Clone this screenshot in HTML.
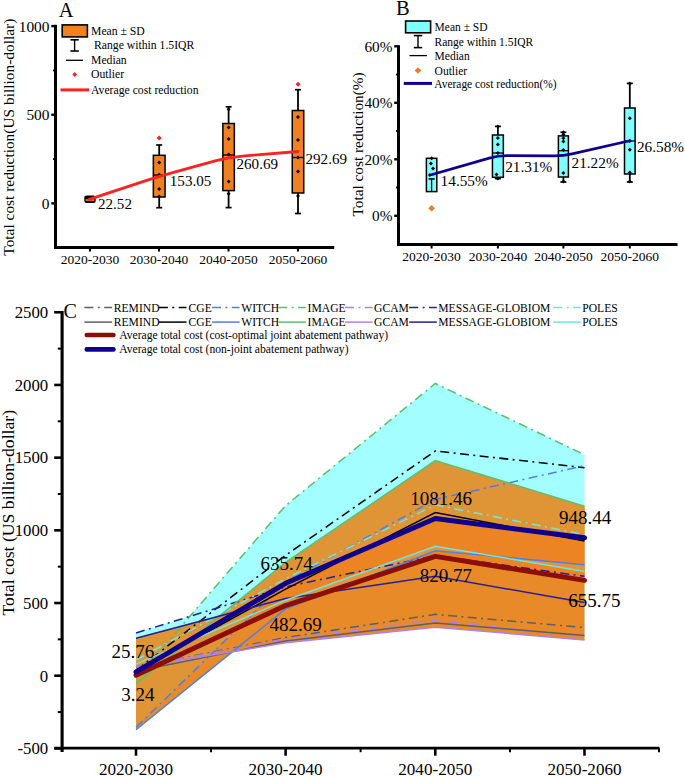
<!DOCTYPE html>
<html><head><meta charset="utf-8"><style>
html,body{margin:0;padding:0;background:#fff;}
svg{display:block;font-family:"Liberation Serif", serif;}
</style></head><body>
<svg width="685" height="776" viewBox="0 0 685 776">
<rect width="685" height="776" fill="#fff"/>
<line x1="55.50" y1="24.80" x2="55.50" y2="248.50" stroke="#000" stroke-width="3" />
<line x1="54.00" y1="247.50" x2="334.20" y2="247.50" stroke="#000" stroke-width="3.0" />
<line x1="51.30" y1="26.10" x2="55.50" y2="26.10" stroke="#000" stroke-width="2.4" />
<text x="49.50" y="31.50" font-size="15.4" text-anchor="end" fill="#000" >1000</text>
<line x1="51.30" y1="114.75" x2="55.50" y2="114.75" stroke="#000" stroke-width="2.4" />
<text x="49.50" y="120.15" font-size="15.4" text-anchor="end" fill="#000" >500</text>
<line x1="51.30" y1="203.40" x2="55.50" y2="203.40" stroke="#000" stroke-width="2.4" />
<text x="49.50" y="208.80" font-size="15.4" text-anchor="end" fill="#000" >0</text>
<line x1="53.00" y1="70.42" x2="55.50" y2="70.42" stroke="#000" stroke-width="1.8" />
<line x1="53.00" y1="159.07" x2="55.50" y2="159.07" stroke="#000" stroke-width="1.8" />
<line x1="90.00" y1="247.50" x2="90.00" y2="251.50" stroke="#000" stroke-width="2" />
<line x1="159.00" y1="247.50" x2="159.00" y2="251.50" stroke="#000" stroke-width="2" />
<line x1="228.50" y1="247.50" x2="228.50" y2="251.50" stroke="#000" stroke-width="2" />
<line x1="298.00" y1="247.50" x2="298.00" y2="251.50" stroke="#000" stroke-width="2" />
<text x="90.00" y="264.10" font-size="13.5" text-anchor="middle" fill="#000" >2020-2030</text>
<text x="159.00" y="264.10" font-size="13.5" text-anchor="middle" fill="#000" >2030-2040</text>
<text x="228.50" y="264.10" font-size="13.5" text-anchor="middle" fill="#000" >2040-2050</text>
<text x="298.00" y="264.10" font-size="13.5" text-anchor="middle" fill="#000" >2050-2060</text>
<text x="13.90" y="137.20" font-size="15.4" text-anchor="middle" fill="#000" transform="rotate(-90 13.9 137.2)">Total cost reduction(US billion-dollar)</text>
<text x="58.80" y="17.40" font-size="20.5" text-anchor="start" fill="#000" >A</text>
<rect x="62.20" y="24.90" width="25.20" height="12.00" fill="#F18021" stroke="#000" stroke-width="1.6"/>
<line x1="74.60" y1="39.80" x2="74.60" y2="51.00" stroke="#000" stroke-width="1.4" />
<line x1="70.40" y1="39.80" x2="78.80" y2="39.80" stroke="#000" stroke-width="1.6" />
<line x1="70.40" y1="51.00" x2="78.80" y2="51.00" stroke="#000" stroke-width="1.6" />
<line x1="66.00" y1="60.30" x2="83.00" y2="60.30" stroke="#000" stroke-width="1.3" />
<polygon points="74.70,72.10 77.10,74.50 74.70,76.90 72.30,74.50" fill="#FF2020"/>
<line x1="60.50" y1="89.90" x2="89.00" y2="89.90" stroke="#FF2020" stroke-width="3" />
<text x="91.00" y="34.70" font-size="11.7" text-anchor="start" fill="#000" >Mean ± SD</text>
<text x="94.00" y="49.10" font-size="11.7" text-anchor="start" fill="#000" >Range within 1.5IQR</text>
<text x="91.00" y="63.60" font-size="11.7" text-anchor="start" fill="#000" >Median</text>
<text x="91.00" y="78.00" font-size="11.7" text-anchor="start" fill="#000" >Outlier</text>
<text x="91.00" y="93.60" font-size="11.7" text-anchor="start" fill="#000" >Average cost reduction</text>
<rect x="84.3" y="195.4" width="11.4" height="7.6" rx="2.2" fill="#000"/>
<rect x="85.6" y="199.2" width="8.8" height="1.7" fill="#F18021"/>
<line x1="159.20" y1="145.00" x2="159.20" y2="155.30" stroke="#000" stroke-width="1.8" />
<line x1="156.20" y1="145.00" x2="162.20" y2="145.00" stroke="#000" stroke-width="1.7" />
<line x1="159.20" y1="197.00" x2="159.20" y2="207.70" stroke="#000" stroke-width="1.8" />
<line x1="156.20" y1="207.70" x2="162.20" y2="207.70" stroke="#000" stroke-width="1.7" />
<rect x="153.35" y="155.30" width="11.70" height="41.70" fill="#F18021" stroke="#000" stroke-width="1.5"/>
<line x1="153.35" y1="175.00" x2="165.05" y2="175.00" stroke="#000" stroke-width="1.3" />
<polygon points="159.20,160.60 161.20,162.60 159.20,164.60 157.20,162.60" fill="#000"/>
<polygon points="159.20,172.70 161.20,174.70 159.20,176.70 157.20,174.70" fill="#000"/>
<polygon points="159.20,187.00 161.20,189.00 159.20,191.00 157.20,189.00" fill="#000"/>
<polygon points="159.20,194.60 161.20,196.60 159.20,198.60 157.20,196.60" fill="#000"/>
<polygon points="159.20,135.40 161.70,137.90 159.20,140.40 156.70,137.90" fill="#FF2020"/>
<line x1="228.60" y1="106.80" x2="228.60" y2="123.50" stroke="#000" stroke-width="1.8" />
<line x1="225.60" y1="106.80" x2="231.60" y2="106.80" stroke="#000" stroke-width="1.7" />
<line x1="228.60" y1="190.60" x2="228.60" y2="207.60" stroke="#000" stroke-width="1.8" />
<line x1="225.60" y1="207.60" x2="231.60" y2="207.60" stroke="#000" stroke-width="1.7" />
<rect x="222.85" y="123.50" width="11.50" height="67.10" fill="#F18021" stroke="#000" stroke-width="1.5"/>
<line x1="222.85" y1="155.00" x2="234.35" y2="155.00" stroke="#000" stroke-width="1.3" />
<polygon points="228.60,107.30 230.60,109.30 228.60,111.30 226.60,109.30" fill="#000"/>
<polygon points="228.60,125.60 230.60,127.60 228.60,129.60 226.60,127.60" fill="#000"/>
<polygon points="228.60,137.10 230.60,139.10 228.60,141.10 226.60,139.10" fill="#000"/>
<polygon points="228.60,152.50 230.60,154.50 228.60,156.50 226.60,154.50" fill="#000"/>
<polygon points="228.60,179.50 230.60,181.50 228.60,183.50 226.60,181.50" fill="#000"/>
<polygon points="228.60,191.70 230.60,193.70 228.60,195.70 226.60,193.70" fill="#000"/>
<line x1="298.00" y1="89.70" x2="298.00" y2="110.50" stroke="#000" stroke-width="1.8" />
<line x1="295.00" y1="89.70" x2="301.00" y2="89.70" stroke="#000" stroke-width="1.7" />
<line x1="298.00" y1="193.00" x2="298.00" y2="213.50" stroke="#000" stroke-width="1.8" />
<line x1="295.00" y1="213.50" x2="301.00" y2="213.50" stroke="#000" stroke-width="1.7" />
<rect x="292.25" y="110.50" width="11.50" height="82.50" fill="#F18021" stroke="#000" stroke-width="1.5"/>
<line x1="292.25" y1="157.50" x2="303.75" y2="157.50" stroke="#000" stroke-width="1.3" />
<polygon points="298.00,115.10 300.00,117.10 298.00,119.10 296.00,117.10" fill="#000"/>
<polygon points="298.00,137.90 300.00,139.90 298.00,141.90 296.00,139.90" fill="#000"/>
<polygon points="298.00,155.50 300.00,157.50 298.00,159.50 296.00,157.50" fill="#000"/>
<polygon points="298.00,169.40 300.00,171.40 298.00,173.40 296.00,171.40" fill="#000"/>
<polygon points="298.00,194.10 300.00,196.10 298.00,198.10 296.00,196.10" fill="#000"/>
<polygon points="298.00,81.80 300.50,84.30 298.00,86.80 295.50,84.30" fill="#FF2020"/>
<path d="M89.20,199.41 L145.91,180.66 Q159.20,176.26 172.70,172.55 L215.10,160.89 Q228.60,157.18 242.55,156.04 L298.00,151.51" fill="none" stroke="#FF2020" stroke-width="2.8" stroke-linecap="round" stroke-linejoin="round"/>
<text x="98.00" y="209.20" font-size="15.1" text-anchor="start" fill="#000" >22.52</text>
<text x="169.80" y="185.60" font-size="15.1" text-anchor="start" fill="#000" >153.05</text>
<text x="236.50" y="169.20" font-size="15.1" text-anchor="start" fill="#000" >260.69</text>
<text x="305.50" y="163.60" font-size="15.1" text-anchor="start" fill="#000" >292.69</text>
<line x1="398.50" y1="45.20" x2="398.50" y2="245.90" stroke="#000" stroke-width="3" />
<line x1="397.00" y1="244.50" x2="677.50" y2="244.50" stroke="#000" stroke-width="2.8" />
<line x1="394.20" y1="46.30" x2="398.50" y2="46.30" stroke="#000" stroke-width="2.4" />
<text x="392.50" y="51.60" font-size="15.3" text-anchor="end" fill="#000" >60%</text>
<line x1="394.20" y1="102.80" x2="398.50" y2="102.80" stroke="#000" stroke-width="2.4" />
<text x="392.50" y="108.10" font-size="15.3" text-anchor="end" fill="#000" >40%</text>
<line x1="394.20" y1="159.30" x2="398.50" y2="159.30" stroke="#000" stroke-width="2.4" />
<text x="392.50" y="164.60" font-size="15.3" text-anchor="end" fill="#000" >20%</text>
<line x1="394.20" y1="215.80" x2="398.50" y2="215.80" stroke="#000" stroke-width="2.4" />
<text x="392.50" y="221.10" font-size="15.3" text-anchor="end" fill="#000" >0%</text>
<line x1="396.00" y1="74.55" x2="398.50" y2="74.55" stroke="#000" stroke-width="1.8" />
<line x1="396.00" y1="131.05" x2="398.50" y2="131.05" stroke="#000" stroke-width="1.8" />
<line x1="396.00" y1="187.55" x2="398.50" y2="187.55" stroke="#000" stroke-width="1.8" />
<line x1="431.60" y1="244.50" x2="431.60" y2="248.50" stroke="#000" stroke-width="2" />
<line x1="497.90" y1="244.50" x2="497.90" y2="248.50" stroke="#000" stroke-width="2" />
<line x1="563.40" y1="244.50" x2="563.40" y2="248.50" stroke="#000" stroke-width="2" />
<line x1="629.80" y1="244.50" x2="629.80" y2="248.50" stroke="#000" stroke-width="2" />
<text x="431.60" y="261.20" font-size="13.5" text-anchor="middle" fill="#000" >2020-2030</text>
<text x="497.90" y="261.20" font-size="13.5" text-anchor="middle" fill="#000" >2030-2040</text>
<text x="563.40" y="261.20" font-size="13.5" text-anchor="middle" fill="#000" >2040-2050</text>
<text x="629.80" y="261.20" font-size="13.5" text-anchor="middle" fill="#000" >2050-2060</text>
<text x="363.20" y="144.40" font-size="15.3" text-anchor="middle" fill="#000" transform="rotate(-90 363.2 144.4)">Total cost reduction(%)</text>
<text x="396.00" y="14.60" font-size="20.5" text-anchor="start" fill="#000" >B</text>
<rect x="405.60" y="21.00" width="25.00" height="11.80" fill="#80FFFF" stroke="#000" stroke-width="1.6"/>
<line x1="418.00" y1="35.60" x2="418.00" y2="47.60" stroke="#000" stroke-width="1.4" />
<line x1="413.80" y1="35.60" x2="422.20" y2="35.60" stroke="#000" stroke-width="1.6" />
<line x1="413.80" y1="47.60" x2="422.20" y2="47.60" stroke="#000" stroke-width="1.6" />
<line x1="409.50" y1="55.60" x2="426.90" y2="55.60" stroke="#000" stroke-width="1.3" />
<polygon points="418.00,67.20 421.30,70.50 418.00,73.80 414.70,70.50" fill="#F07C20"/>
<line x1="403.80" y1="83.40" x2="432.00" y2="83.40" stroke="#100090" stroke-width="3" />
<text x="434.60" y="30.90" font-size="11.5" text-anchor="start" fill="#000" >Mean ± SD</text>
<text x="434.60" y="46.10" font-size="11.5" text-anchor="start" fill="#000" >Range within 1.5IQR</text>
<text x="434.60" y="60.30" font-size="11.5" text-anchor="start" fill="#000" >Median</text>
<text x="434.60" y="74.80" font-size="11.5" text-anchor="start" fill="#000" >Outlier</text>
<text x="434.30" y="87.80" font-size="11.45" text-anchor="start" fill="#000" >Average cost reduction(%)</text>
<rect x="426.40" y="158.30" width="10.40" height="33.30" fill="#80FFFF" stroke="#000" stroke-width="1.5"/>
<line x1="431.60" y1="178.90" x2="431.60" y2="191.60" stroke="#000" stroke-width="1.3" />
<line x1="428.60" y1="178.90" x2="434.70" y2="178.90" stroke="#000" stroke-width="1.6" />
<polygon points="431.60,156.30 433.60,158.30 431.60,160.30 429.60,158.30" fill="#000"/>
<polygon points="430.90,161.60 432.90,163.60 430.90,165.60 428.90,163.60" fill="#000"/>
<polygon points="433.00,166.40 435.00,168.40 433.00,170.40 431.00,168.40" fill="#000"/>
<polygon points="429.90,173.00 431.90,175.00 429.90,177.00 427.90,175.00" fill="#000"/>
<polygon points="431.60,204.90 434.90,208.20 431.60,211.50 428.30,208.20" fill="#F07C20"/>
<line x1="497.90" y1="126.40" x2="497.90" y2="135.00" stroke="#000" stroke-width="1.8" />
<line x1="494.90" y1="126.40" x2="500.90" y2="126.40" stroke="#000" stroke-width="1.7" />
<line x1="497.90" y1="177.30" x2="497.90" y2="178.60" stroke="#000" stroke-width="1.8" />
<line x1="494.90" y1="178.60" x2="500.90" y2="178.60" stroke="#000" stroke-width="1.7" />
<rect x="492.45" y="135.00" width="10.90" height="42.30" fill="#80FFFF" stroke="#000" stroke-width="1.5"/>
<line x1="492.45" y1="153.00" x2="503.35" y2="153.00" stroke="#000" stroke-width="1.3" />
<polygon points="497.90,124.40 499.90,126.40 497.90,128.40 495.90,126.40" fill="#000"/>
<polygon points="497.90,135.90 499.90,137.90 497.90,139.90 495.90,137.90" fill="#000"/>
<polygon points="497.90,142.40 499.90,144.40 497.90,146.40 495.90,144.40" fill="#000"/>
<polygon points="497.90,151.00 499.90,153.00 497.90,155.00 495.90,153.00" fill="#000"/>
<polygon points="496.50,172.40 498.50,174.40 496.50,176.40 494.50,174.40" fill="#000"/>
<polygon points="497.90,176.60 499.90,178.60 497.90,180.60 495.90,178.60" fill="#000"/>
<line x1="563.40" y1="132.30" x2="563.40" y2="135.90" stroke="#000" stroke-width="1.8" />
<line x1="560.40" y1="132.30" x2="566.40" y2="132.30" stroke="#000" stroke-width="1.7" />
<line x1="563.40" y1="177.00" x2="563.40" y2="182.00" stroke="#000" stroke-width="1.8" />
<line x1="560.40" y1="182.00" x2="566.40" y2="182.00" stroke="#000" stroke-width="1.7" />
<rect x="558.40" y="135.90" width="10.00" height="41.10" fill="#80FFFF" stroke="#000" stroke-width="1.5"/>
<line x1="558.40" y1="150.70" x2="568.40" y2="150.70" stroke="#000" stroke-width="1.3" />
<polygon points="563.40,130.30 565.40,132.30 563.40,134.30 561.40,132.30" fill="#000"/>
<polygon points="563.40,132.50 565.40,134.50 563.40,136.50 561.40,134.50" fill="#000"/>
<polygon points="563.40,136.30 565.40,138.30 563.40,140.30 561.40,138.30" fill="#000"/>
<polygon points="563.40,139.50 565.40,141.50 563.40,143.50 561.40,141.50" fill="#000"/>
<polygon points="563.40,148.00 565.40,150.00 563.40,152.00 561.40,150.00" fill="#000"/>
<polygon points="563.40,171.00 565.40,173.00 563.40,175.00 561.40,173.00" fill="#000"/>
<polygon points="563.40,179.60 565.40,181.60 563.40,183.60 561.40,181.60" fill="#000"/>
<line x1="629.80" y1="83.40" x2="629.80" y2="108.00" stroke="#000" stroke-width="1.8" />
<line x1="626.80" y1="83.40" x2="632.80" y2="83.40" stroke="#000" stroke-width="1.7" />
<line x1="629.80" y1="174.00" x2="629.80" y2="182.00" stroke="#000" stroke-width="1.8" />
<line x1="626.80" y1="182.00" x2="632.80" y2="182.00" stroke="#000" stroke-width="1.7" />
<rect x="624.50" y="108.00" width="10.60" height="66.00" fill="#80FFFF" stroke="#000" stroke-width="1.5"/>
<line x1="624.50" y1="141.00" x2="635.10" y2="141.00" stroke="#000" stroke-width="1.3" />
<polygon points="629.80,81.40 631.80,83.40 629.80,85.40 627.80,83.40" fill="#000"/>
<polygon points="629.80,116.30 631.80,118.30 629.80,120.30 627.80,118.30" fill="#000"/>
<polygon points="629.80,139.00 631.80,141.00 629.80,143.00 627.80,141.00" fill="#000"/>
<polygon points="629.80,147.80 631.80,149.80 629.80,151.80 627.80,149.80" fill="#000"/>
<polygon points="629.80,170.50 631.80,172.50 629.80,174.50 627.80,172.50" fill="#000"/>
<polygon points="629.80,179.40 631.80,181.40 629.80,183.40 627.80,181.40" fill="#000"/>
<path d="M431.40,174.70 L489.25,158.08 Q497.90,155.60 506.90,155.63 L554.40,155.82 Q563.40,155.85 572.17,153.85 L629.80,140.71" fill="none" stroke="#100090" stroke-width="2.7" stroke-linecap="round" stroke-linejoin="round"/>
<text x="440.60" y="186.30" font-size="15.3" text-anchor="start" fill="#000" >14.55%</text>
<text x="505.20" y="171.80" font-size="15.3" text-anchor="start" fill="#000" >21.31%</text>
<text x="571.50" y="168.00" font-size="15.3" text-anchor="start" fill="#000" >21.22%</text>
<text x="636.90" y="152.40" font-size="15.3" text-anchor="start" fill="#000" >26.58%</text>
<polygon points="136.00,632.96 136.75,632.73 137.50,632.50 138.24,632.27 138.99,632.04 139.74,631.81 140.49,631.58 141.24,631.35 141.98,631.12 142.73,630.89 143.48,630.66 144.23,630.43 144.98,630.20 145.72,629.97 146.47,629.74 147.22,629.51 147.97,629.27 148.72,629.04 149.46,628.81 150.21,628.58 150.96,628.35 151.71,628.12 152.46,627.89 153.20,627.66 153.95,627.43 154.70,627.20 155.45,626.97 156.20,626.74 156.94,626.51 157.69,626.28 158.44,626.05 159.19,625.82 159.94,625.59 160.68,625.36 161.43,625.13 162.18,624.90 162.93,624.67 163.68,624.44 164.42,624.21 165.17,623.98 165.92,623.74 166.67,623.51 167.42,623.28 168.16,623.05 168.91,622.82 169.66,622.59 170.41,622.36 171.16,622.13 171.90,621.90 172.65,621.67 173.40,621.44 174.15,621.21 174.90,620.98 175.64,620.75 176.39,620.52 177.14,620.29 177.89,620.06 178.64,619.83 179.38,619.60 180.13,619.37 180.88,619.14 181.63,618.91 182.38,618.68 183.12,618.45 183.87,618.21 184.62,617.98 185.37,617.75 186.12,617.52 186.86,617.29 187.61,617.06 188.36,616.83 189.11,616.60 189.86,616.33 190.60,615.47 191.35,614.60 192.10,613.74 192.85,612.87 193.60,612.01 194.34,611.14 195.09,610.28 195.84,609.41 196.59,608.55 197.34,607.68 198.08,606.82 198.83,605.95 199.58,605.09 200.33,604.22 201.08,603.36 201.82,602.49 202.57,601.63 203.32,600.76 204.07,599.90 204.82,599.03 205.56,598.17 206.31,597.30 207.06,596.44 207.81,595.57 208.56,594.71 209.30,593.84 210.05,592.98 210.80,592.11 211.55,591.25 212.30,590.38 213.04,589.52 213.79,588.65 214.54,587.79 215.29,586.92 216.04,586.06 216.78,585.19 217.53,584.33 218.28,583.46 219.03,582.60 219.78,581.73 220.52,580.87 221.27,580.00 222.02,579.14 222.77,578.27 223.52,577.41 224.26,576.54 225.01,575.68 225.76,574.81 226.51,573.95 227.26,573.08 228.00,572.22 228.75,571.35 229.50,570.49 230.25,569.62 231.00,568.76 231.74,567.89 232.49,567.03 233.24,566.16 233.99,565.30 234.74,564.43 235.48,563.57 236.23,562.70 236.98,561.84 237.73,560.97 238.48,560.11 239.22,559.24 239.97,558.38 240.72,557.51 241.47,556.65 242.22,555.78 242.96,554.92 243.71,554.05 244.46,553.19 245.21,552.32 245.96,551.46 246.70,550.59 247.45,549.73 248.20,548.86 248.95,548.00 249.70,547.13 250.44,546.27 251.19,545.40 251.94,544.54 252.69,543.67 253.44,542.81 254.18,541.95 254.93,541.08 255.68,540.22 256.43,539.35 257.18,538.49 257.92,537.62 258.67,536.76 259.42,535.89 260.17,535.03 260.92,534.16 261.66,533.30 262.41,532.43 263.16,531.57 263.91,530.70 264.66,529.84 265.40,528.97 266.15,528.11 266.90,527.24 267.65,526.38 268.40,525.51 269.14,524.65 269.89,523.78 270.64,522.92 271.39,522.05 272.14,521.19 272.88,520.32 273.63,519.46 274.38,518.59 275.13,517.73 275.88,516.86 276.62,516.00 277.37,515.13 278.12,514.27 278.87,513.40 279.62,512.54 280.36,511.67 281.11,510.81 281.86,509.94 282.61,509.08 283.36,508.21 284.10,507.35 284.85,506.48 285.60,505.62 285.60,505.62 286.35,505.01 287.10,504.40 287.85,503.79 288.59,503.17 289.34,502.56 290.09,501.95 290.84,501.34 291.59,500.73 292.34,500.12 293.09,499.51 293.83,498.90 294.58,498.29 295.33,497.68 296.08,497.07 296.83,496.46 297.58,495.85 298.32,495.24 299.07,494.63 299.82,494.02 300.57,493.41 301.32,492.80 302.07,492.18 302.82,491.57 303.56,490.96 304.31,490.35 305.06,489.74 305.81,489.13 306.56,488.52 307.31,487.91 308.06,487.30 308.80,486.69 309.55,486.08 310.30,485.47 311.05,484.86 311.80,484.25 312.55,483.64 313.29,483.03 314.04,482.42 314.79,481.81 315.54,481.19 316.29,480.58 317.04,479.97 317.79,479.36 318.53,478.75 319.28,478.14 320.03,477.53 320.78,476.92 321.53,476.31 322.28,475.70 323.03,475.09 323.77,474.48 324.52,473.87 325.27,473.26 326.02,472.65 326.77,472.04 327.52,471.43 328.26,470.82 329.01,470.20 329.76,469.59 330.51,468.98 331.26,468.37 332.01,467.76 332.76,467.15 333.50,466.54 334.25,465.93 335.00,465.32 335.75,464.71 336.50,464.10 337.25,463.49 338.00,462.88 338.74,462.27 339.49,461.66 340.24,461.05 340.99,460.44 341.74,459.83 342.49,459.21 343.23,458.60 343.98,457.99 344.73,457.38 345.48,456.77 346.23,456.16 346.98,455.55 347.73,454.94 348.47,454.33 349.22,453.72 349.97,453.11 350.72,452.50 351.47,451.89 352.22,451.28 352.97,450.67 353.71,450.06 354.46,449.45 355.21,448.84 355.96,448.23 356.71,447.61 357.46,447.00 358.20,446.39 358.95,445.78 359.70,445.17 360.45,444.56 361.20,443.95 361.95,443.34 362.70,442.73 363.44,442.12 364.19,441.51 364.94,440.90 365.69,440.29 366.44,439.68 367.19,439.07 367.94,438.46 368.68,437.85 369.43,437.24 370.18,436.62 370.93,436.01 371.68,435.40 372.43,434.79 373.17,434.18 373.92,433.57 374.67,432.96 375.42,432.35 376.17,431.74 376.92,431.13 377.67,430.52 378.41,429.91 379.16,429.30 379.91,428.69 380.66,428.08 381.41,427.47 382.16,426.86 382.91,426.25 383.65,425.63 384.40,425.02 385.15,424.41 385.90,423.80 386.65,423.19 387.40,422.58 388.14,421.97 388.89,421.36 389.64,420.75 390.39,420.14 391.14,419.53 391.89,418.92 392.64,418.31 393.38,417.70 394.13,417.09 394.88,416.48 395.63,415.87 396.38,415.26 397.13,414.64 397.88,414.03 398.62,413.42 399.37,412.81 400.12,412.20 400.87,411.59 401.62,410.98 402.37,410.37 403.11,409.76 403.86,409.15 404.61,408.54 405.36,407.93 406.11,407.32 406.86,406.71 407.61,406.10 408.35,405.49 409.10,404.88 409.85,404.27 410.60,403.65 411.35,403.04 412.10,402.43 412.85,401.82 413.59,401.21 414.34,400.60 415.09,399.99 415.84,399.38 416.59,398.77 417.34,398.16 418.08,397.55 418.83,396.94 419.58,396.33 420.33,395.72 421.08,395.11 421.83,394.50 422.58,393.89 423.32,393.28 424.07,392.66 424.82,392.05 425.57,391.44 426.32,390.83 427.07,390.22 427.81,389.61 428.56,389.00 429.31,388.39 430.06,387.78 430.81,387.17 431.56,386.56 432.31,385.95 433.05,385.34 433.80,384.73 434.55,384.12 435.30,383.51 435.30,383.51 436.05,383.86 436.79,384.22 437.54,384.57 438.28,384.93 439.03,385.29 439.78,385.64 440.52,386.00 441.27,386.36 442.01,386.71 442.76,387.07 443.51,387.42 444.25,387.78 445.00,388.14 445.74,388.49 446.49,388.85 447.24,389.20 447.98,389.56 448.73,389.92 449.47,390.27 450.22,390.63 450.97,390.99 451.71,391.34 452.46,391.70 453.20,392.05 453.95,392.41 454.70,392.77 455.44,393.12 456.19,393.48 456.93,393.83 457.68,394.19 458.43,394.55 459.17,394.90 459.92,395.26 460.66,395.62 461.41,395.97 462.16,396.33 462.90,396.68 463.65,397.04 464.39,397.40 465.14,397.75 465.89,398.11 466.63,398.46 467.38,398.82 468.12,399.18 468.87,399.53 469.62,399.89 470.36,400.25 471.11,400.60 471.85,400.96 472.60,401.31 473.35,401.67 474.09,402.03 474.84,402.38 475.58,402.74 476.33,403.09 477.08,403.45 477.82,403.81 478.57,404.16 479.31,404.52 480.06,404.88 480.81,405.23 481.55,405.59 482.30,405.94 483.04,406.30 483.79,406.66 484.54,407.01 485.28,407.37 486.03,407.72 486.77,408.08 487.52,408.44 488.27,408.79 489.01,409.15 489.76,409.51 490.50,409.86 491.25,410.22 492.00,410.57 492.74,410.93 493.49,411.29 494.23,411.64 494.98,412.00 495.73,412.35 496.47,412.71 497.22,413.07 497.96,413.42 498.71,413.78 499.46,414.14 500.20,414.49 500.95,414.85 501.69,415.20 502.44,415.56 503.19,415.92 503.93,416.27 504.68,416.63 505.42,416.99 506.17,417.34 506.92,417.70 507.66,418.05 508.41,418.41 509.15,418.77 509.90,419.12 510.65,419.48 511.39,419.83 512.14,420.19 512.88,420.55 513.63,420.90 514.38,421.26 515.12,421.62 515.87,421.97 516.61,422.33 517.36,422.68 518.11,423.04 518.85,423.40 519.60,423.75 520.34,424.11 521.09,424.46 521.84,424.82 522.58,425.18 523.33,425.53 524.07,425.89 524.82,426.25 525.57,426.60 526.31,426.96 527.06,427.31 527.80,427.67 528.55,428.03 529.30,428.38 530.04,428.74 530.79,429.09 531.53,429.45 532.28,429.81 533.03,430.16 533.77,430.52 534.52,430.88 535.26,431.23 536.01,431.59 536.76,431.94 537.50,432.30 538.25,432.66 538.99,433.01 539.74,433.37 540.49,433.72 541.23,434.08 541.98,434.44 542.72,434.79 543.47,435.15 544.22,435.51 544.96,435.86 545.71,436.22 546.45,436.57 547.20,436.93 547.95,437.29 548.69,437.64 549.44,438.00 550.18,438.35 550.93,438.71 551.68,439.07 552.42,439.42 553.17,439.78 553.91,440.14 554.66,440.49 555.41,440.85 556.15,441.20 556.90,441.56 557.64,441.92 558.39,442.27 559.14,442.63 559.88,442.98 560.63,443.34 561.37,443.70 562.12,444.05 562.87,444.41 563.61,444.77 564.36,445.12 565.10,445.48 565.85,445.83 566.60,446.19 567.34,446.55 568.09,446.90 568.83,447.26 569.58,447.61 570.33,447.97 571.07,448.33 571.82,448.68 572.56,449.04 573.31,449.40 574.06,449.75 574.80,450.11 575.55,450.46 576.29,450.82 577.04,451.18 577.79,451.53 578.53,451.89 579.28,452.24 580.02,452.60 580.77,452.96 581.52,453.31 582.26,453.67 583.01,454.03 583.75,454.38 584.50,454.74 584.50,636.74 583.75,636.66 583.01,636.58 582.26,636.50 581.52,636.42 580.77,636.34 580.02,636.26 579.28,636.18 578.53,636.10 577.79,636.01 577.04,635.93 576.29,635.85 575.55,635.77 574.80,635.69 574.06,635.61 573.31,635.53 572.56,635.45 571.82,635.37 571.07,635.29 570.33,635.21 569.58,635.13 568.83,635.05 568.09,634.97 567.34,634.89 566.60,634.80 565.85,634.72 565.10,634.64 564.36,634.56 563.61,634.48 562.87,634.40 562.12,634.32 561.37,634.24 560.63,634.16 559.88,634.08 559.14,634.00 558.39,633.92 557.64,633.84 556.90,633.76 556.15,633.67 555.41,633.59 554.66,633.51 553.91,633.43 553.17,633.35 552.42,633.27 551.68,633.19 550.93,633.11 550.18,633.03 549.44,632.95 548.69,632.87 547.95,632.79 547.20,632.71 546.45,632.63 545.71,632.55 544.96,632.46 544.22,632.38 543.47,632.30 542.72,632.22 541.98,632.14 541.23,632.06 540.49,631.98 539.74,631.90 538.99,631.82 538.25,631.74 537.50,631.66 536.76,631.58 536.01,631.50 535.26,631.42 534.52,631.34 533.77,631.25 533.03,631.17 532.28,631.09 531.53,631.01 530.79,630.93 530.04,630.85 529.30,630.77 528.55,630.69 527.80,630.61 527.06,630.53 526.31,630.45 525.57,630.37 524.82,630.29 524.07,630.21 523.33,630.13 522.58,630.04 521.84,629.96 521.09,629.88 520.34,629.80 519.60,629.72 518.85,629.64 518.11,629.56 517.36,629.48 516.61,629.40 515.87,629.32 515.12,629.24 514.38,629.16 513.63,629.08 512.88,629.00 512.14,628.91 511.39,628.83 510.65,628.75 509.90,628.67 509.15,628.59 508.41,628.51 507.66,628.43 506.92,628.35 506.17,628.27 505.42,628.19 504.68,628.11 503.93,628.03 503.19,627.95 502.44,627.87 501.69,627.79 500.95,627.70 500.20,627.62 499.46,627.54 498.71,627.46 497.96,627.38 497.22,627.30 496.47,627.22 495.73,627.14 494.98,627.06 494.23,626.98 493.49,626.90 492.74,626.82 492.00,626.74 491.25,626.66 490.50,626.58 489.76,626.49 489.01,626.41 488.27,626.33 487.52,626.25 486.77,626.17 486.03,626.09 485.28,626.01 484.54,625.93 483.79,625.85 483.04,625.77 482.30,625.69 481.55,625.61 480.81,625.53 480.06,625.45 479.31,625.36 478.57,625.28 477.82,625.20 477.08,625.12 476.33,625.04 475.58,624.96 474.84,624.88 474.09,624.80 473.35,624.72 472.60,624.64 471.85,624.56 471.11,624.48 470.36,624.40 469.62,624.32 468.87,624.24 468.12,624.15 467.38,624.07 466.63,623.99 465.89,623.91 465.14,623.83 464.39,623.75 463.65,623.67 462.90,623.59 462.16,623.51 461.41,623.43 460.66,623.35 459.92,623.27 459.17,623.19 458.43,623.11 457.68,623.03 456.93,622.94 456.19,622.86 455.44,622.78 454.70,622.70 453.95,622.62 453.20,622.54 452.46,622.46 451.71,622.38 450.97,622.30 450.22,622.22 449.47,622.14 448.73,622.06 447.98,621.98 447.24,621.90 446.49,621.81 445.74,621.73 445.00,621.65 444.25,621.57 443.51,621.49 442.76,621.41 442.01,621.33 441.27,621.25 440.52,621.17 439.78,621.09 439.03,621.01 438.28,620.93 437.54,620.85 436.79,620.77 436.05,620.69 435.30,620.60 435.30,620.60 434.55,620.70 433.80,620.79 433.05,620.88 432.31,620.97 431.56,621.06 430.81,621.15 430.06,621.24 429.31,621.33 428.56,621.42 427.81,621.51 427.07,621.60 426.32,621.70 425.57,621.79 424.82,621.88 424.07,621.97 423.32,622.06 422.58,622.15 421.83,622.24 421.08,622.33 420.33,622.42 419.58,622.51 418.83,622.60 418.08,622.69 417.34,622.79 416.59,622.88 415.84,622.97 415.09,623.06 414.34,623.15 413.59,623.24 412.85,623.33 412.10,623.42 411.35,623.51 410.60,623.60 409.85,623.69 409.10,623.78 408.35,623.88 407.61,623.97 406.86,624.06 406.11,624.15 405.36,624.24 404.61,624.33 403.86,624.42 403.11,624.51 402.37,624.60 401.62,624.69 400.87,624.78 400.12,624.88 399.37,624.97 398.62,625.06 397.88,625.15 397.13,625.24 396.38,625.33 395.63,625.42 394.88,625.51 394.13,625.60 393.38,625.69 392.64,625.78 391.89,625.87 391.14,625.97 390.39,626.06 389.64,626.15 388.89,626.24 388.14,626.33 387.40,626.42 386.65,626.51 385.90,626.60 385.15,626.69 384.40,626.78 383.65,626.87 382.91,626.96 382.16,627.06 381.41,627.15 380.66,627.24 379.91,627.33 379.16,627.42 378.41,627.51 377.67,627.60 376.92,627.69 376.17,627.78 375.42,627.87 374.67,627.96 373.92,628.05 373.17,628.15 372.43,628.24 371.68,628.33 370.93,628.42 370.18,628.51 369.43,628.60 368.68,628.69 367.94,628.78 367.19,628.87 366.44,628.96 365.69,629.05 364.94,629.15 364.19,629.24 363.44,629.33 362.70,629.42 361.95,629.51 361.20,629.60 360.45,629.69 359.70,629.78 358.95,629.87 358.20,629.96 357.46,630.05 356.71,630.14 355.96,630.24 355.21,630.33 354.46,630.42 353.71,630.51 352.97,630.60 352.22,630.69 351.47,630.78 350.72,630.87 349.97,630.96 349.22,631.05 348.47,631.14 347.73,631.23 346.98,631.33 346.23,631.42 345.48,631.51 344.73,631.60 343.98,631.69 343.23,631.78 342.49,631.87 341.74,631.96 340.99,632.05 340.24,632.14 339.49,632.23 338.74,632.33 338.00,632.42 337.25,632.51 336.50,632.60 335.75,632.69 335.00,632.78 334.25,632.87 333.50,632.96 332.76,633.05 332.01,633.14 331.26,633.23 330.51,633.32 329.76,633.42 329.01,633.51 328.26,633.60 327.52,633.69 326.77,633.78 326.02,633.87 325.27,633.96 324.52,634.05 323.77,634.14 323.03,634.23 322.28,634.32 321.53,634.41 320.78,634.51 320.03,634.60 319.28,634.69 318.53,634.78 317.79,634.87 317.04,634.96 316.29,635.05 315.54,635.14 314.79,635.23 314.04,635.32 313.29,635.41 312.55,635.51 311.80,635.60 311.05,635.69 310.30,635.78 309.55,635.87 308.80,635.96 308.06,636.05 307.31,636.14 306.56,636.23 305.81,636.32 305.06,636.41 304.31,636.50 303.56,636.60 302.82,636.69 302.07,636.78 301.32,636.87 300.57,636.96 299.82,637.05 299.07,637.14 298.32,637.23 297.58,637.32 296.83,637.41 296.08,637.50 295.33,637.59 294.58,637.69 293.83,637.78 293.09,637.87 292.34,637.96 291.59,638.05 290.84,638.14 290.09,638.23 289.34,638.32 288.59,638.41 287.85,638.50 287.10,638.59 286.35,638.69 285.60,638.78 285.60,638.78 284.85,638.92 284.10,639.06 283.36,639.20 282.61,639.35 281.86,639.49 281.11,639.63 280.36,639.77 279.62,639.92 278.87,640.06 278.12,640.20 277.37,640.34 276.62,640.49 275.88,640.63 275.13,640.77 274.38,640.91 273.63,641.06 272.88,641.20 272.14,641.34 271.39,641.48 270.64,641.63 269.89,641.77 269.14,641.91 268.40,642.05 267.65,642.20 266.90,642.34 266.15,642.48 265.40,642.62 264.66,642.76 263.91,642.91 263.16,643.05 262.41,643.19 261.66,643.33 260.92,643.48 260.17,643.62 259.42,643.76 258.67,643.90 257.92,644.05 257.18,644.19 256.43,644.33 255.68,644.47 254.93,644.62 254.18,644.76 253.44,644.90 252.69,645.04 251.94,645.19 251.19,645.33 250.44,645.47 249.70,645.61 248.95,645.76 248.20,645.90 247.45,646.04 246.70,646.18 245.96,646.33 245.21,646.47 244.46,646.61 243.71,646.75 242.96,646.90 242.22,647.04 241.47,647.18 240.72,647.32 239.97,647.47 239.22,647.61 238.48,647.75 237.73,647.89 236.98,648.04 236.23,648.18 235.48,648.32 234.74,648.46 233.99,648.61 233.24,648.75 232.49,648.89 231.74,649.03 231.00,649.18 230.25,649.32 229.50,649.46 228.75,649.60 228.00,649.75 227.26,649.89 226.51,650.03 225.76,650.17 225.01,650.32 224.26,650.46 223.52,650.60 222.77,650.74 222.02,650.89 221.27,651.03 220.52,651.17 219.78,651.31 219.03,651.46 218.28,651.60 217.53,651.74 216.78,651.88 216.04,652.03 215.29,652.17 214.54,652.31 213.79,652.45 213.04,652.59 212.30,653.17 211.55,653.89 210.80,654.62 210.05,655.35 209.30,656.08 208.56,656.80 207.81,657.53 207.06,658.26 206.31,658.98 205.56,659.71 204.82,660.44 204.07,661.16 203.32,661.89 202.57,662.62 201.82,663.34 201.08,664.07 200.33,664.80 199.58,665.52 198.83,666.25 198.08,666.98 197.34,667.70 196.59,668.43 195.84,669.16 195.09,669.89 194.34,670.61 193.60,671.34 192.85,672.07 192.10,672.79 191.35,673.52 190.60,674.25 189.86,674.97 189.11,675.70 188.36,676.43 187.61,677.15 186.86,677.88 186.12,678.61 185.37,679.33 184.62,680.06 183.87,680.79 183.12,681.51 182.38,682.24 181.63,682.97 180.88,683.70 180.13,684.42 179.38,685.15 178.64,685.88 177.89,686.60 177.14,687.33 176.39,688.06 175.64,688.78 174.90,689.51 174.15,690.24 173.40,690.96 172.65,691.69 171.90,692.42 171.16,693.14 170.41,693.87 169.66,694.60 168.91,695.32 168.16,696.05 167.42,696.78 166.67,697.51 165.92,698.23 165.17,698.96 164.42,699.69 163.68,700.41 162.93,701.14 162.18,701.87 161.43,702.59 160.68,703.32 159.94,704.05 159.19,704.77 158.44,705.50 157.69,706.23 156.94,706.95 156.20,707.68 155.45,708.41 154.70,709.14 153.95,709.86 153.20,710.59 152.46,711.32 151.71,712.04 150.96,712.77 150.21,713.50 149.46,714.22 148.72,714.95 147.97,715.68 147.22,716.40 146.47,717.13 145.72,717.86 144.98,718.58 144.23,719.31 143.48,720.04 142.73,720.76 141.98,721.49 141.24,722.22 140.49,722.95 139.74,723.67 138.99,724.40 138.24,725.13 137.50,725.85 136.75,726.58 136.00,727.31" fill="#A3FFFF" stroke="none"/>
<polygon points="136.00,638.19 136.75,638.00 137.50,637.80 138.24,637.60 138.99,637.40 139.74,637.20 140.49,637.00 141.24,636.81 141.98,636.61 142.73,636.41 143.48,636.21 144.23,636.01 144.98,635.81 145.72,635.61 146.47,635.42 147.22,635.22 147.97,635.02 148.72,634.82 149.46,634.62 150.21,634.42 150.96,634.23 151.71,634.03 152.46,633.83 153.20,633.63 153.95,633.43 154.70,633.23 155.45,633.04 156.20,632.84 156.94,632.64 157.69,632.44 158.44,632.24 159.19,632.04 159.94,631.84 160.68,631.65 161.43,631.45 162.18,631.25 162.93,631.05 163.68,630.85 164.42,630.65 165.17,630.46 165.92,630.26 166.67,630.06 167.42,629.86 168.16,629.66 168.91,629.46 169.66,629.27 170.41,629.07 171.16,628.87 171.90,628.67 172.65,628.47 173.40,628.27 174.15,628.07 174.90,627.88 175.64,627.68 176.39,627.48 177.14,627.28 177.89,627.08 178.64,626.88 179.38,626.69 180.13,626.49 180.88,626.29 181.63,626.09 182.38,625.89 183.12,625.69 183.87,625.50 184.62,625.30 185.37,625.10 186.12,624.90 186.86,624.70 187.61,624.50 188.36,624.30 189.11,624.11 189.86,623.91 190.60,623.71 191.35,623.51 192.10,623.31 192.85,623.11 193.60,622.92 194.34,622.72 195.09,622.52 195.84,622.32 196.59,622.12 197.34,621.92 198.08,621.72 198.83,621.53 199.58,621.33 200.33,621.13 201.08,620.93 201.82,620.73 202.57,620.53 203.32,620.34 204.07,620.14 204.82,619.94 205.56,619.74 206.31,619.54 207.06,619.34 207.81,619.15 208.56,618.95 209.30,618.75 210.05,618.55 210.80,618.35 211.55,618.15 212.30,617.95 213.04,617.76 213.79,617.56 214.54,617.36 215.29,617.16 216.04,616.96 216.78,616.76 217.53,616.57 218.28,616.37 219.03,616.17 219.78,615.67 220.52,615.07 221.27,614.46 222.02,613.86 222.77,613.25 223.52,612.65 224.26,612.05 225.01,611.44 225.76,610.84 226.51,610.23 227.26,609.63 228.00,609.02 228.75,608.42 229.50,607.81 230.25,607.21 231.00,606.60 231.74,606.00 232.49,605.39 233.24,604.79 233.99,604.18 234.74,603.58 235.48,602.97 236.23,602.37 236.98,601.76 237.73,601.16 238.48,600.56 239.22,599.95 239.97,599.35 240.72,598.74 241.47,598.14 242.22,597.53 242.96,596.93 243.71,596.32 244.46,595.72 245.21,595.11 245.96,594.51 246.70,593.90 247.45,593.30 248.20,592.69 248.95,592.09 249.70,591.48 250.44,590.88 251.19,590.27 251.94,589.67 252.69,589.07 253.44,588.46 254.18,587.86 254.93,587.25 255.68,586.65 256.43,586.04 257.18,585.44 257.92,584.83 258.67,584.23 259.42,583.62 260.17,583.02 260.92,582.41 261.66,581.81 262.41,581.20 263.16,580.60 263.91,579.99 264.66,579.39 265.40,578.78 266.15,578.18 266.90,577.58 267.65,576.97 268.40,576.37 269.14,575.76 269.89,575.16 270.64,574.55 271.39,573.95 272.14,573.34 272.88,572.74 273.63,572.13 274.38,571.53 275.13,570.92 275.88,570.32 276.62,569.71 277.37,569.11 278.12,568.50 278.87,567.90 279.62,567.29 280.36,566.69 281.11,566.09 281.86,565.48 282.61,564.88 283.36,564.27 284.10,563.67 284.85,563.06 285.60,562.46 285.60,562.46 286.35,561.95 287.10,561.44 287.85,560.93 288.59,560.42 289.34,559.91 290.09,559.40 290.84,558.89 291.59,558.38 292.34,557.87 293.09,557.36 293.83,556.85 294.58,556.34 295.33,555.83 296.08,555.32 296.83,554.81 297.58,554.30 298.32,553.79 299.07,553.29 299.82,552.78 300.57,552.27 301.32,551.76 302.07,551.25 302.82,550.74 303.56,550.23 304.31,549.72 305.06,549.21 305.81,548.70 306.56,548.19 307.31,547.68 308.06,547.17 308.80,546.66 309.55,546.15 310.30,545.64 311.05,545.13 311.80,544.62 312.55,544.11 313.29,543.60 314.04,543.09 314.79,542.59 315.54,542.08 316.29,541.57 317.04,541.06 317.79,540.55 318.53,540.04 319.28,539.53 320.03,539.02 320.78,538.51 321.53,538.00 322.28,537.49 323.03,536.98 323.77,536.47 324.52,535.96 325.27,535.45 326.02,534.94 326.77,534.43 327.52,533.92 328.26,533.41 329.01,532.90 329.76,532.39 330.51,531.89 331.26,531.38 332.01,530.87 332.76,530.36 333.50,529.85 334.25,529.34 335.00,528.83 335.75,528.32 336.50,527.81 337.25,527.30 338.00,526.79 338.74,526.28 339.49,525.77 340.24,525.26 340.99,524.75 341.74,524.24 342.49,523.73 343.23,523.22 343.98,522.71 344.73,522.20 345.48,521.70 346.23,521.19 346.98,520.68 347.73,520.17 348.47,519.66 349.22,519.15 349.97,518.64 350.72,518.13 351.47,517.62 352.22,517.11 352.97,516.60 353.71,516.09 354.46,515.58 355.21,515.07 355.96,514.56 356.71,514.05 357.46,513.54 358.20,513.03 358.95,512.52 359.70,512.01 360.45,511.50 361.20,511.00 361.95,510.49 362.70,509.98 363.44,509.47 364.19,508.96 364.94,508.45 365.69,507.94 366.44,507.43 367.19,506.92 367.94,506.41 368.68,505.90 369.43,505.39 370.18,504.88 370.93,504.37 371.68,503.86 372.43,503.35 373.17,502.84 373.92,502.33 374.67,501.82 375.42,501.31 376.17,500.80 376.92,500.30 377.67,499.79 378.41,499.28 379.16,498.77 379.91,498.26 380.66,497.75 381.41,497.24 382.16,496.73 382.91,496.22 383.65,495.71 384.40,495.20 385.15,494.69 385.90,494.18 386.65,493.67 387.40,493.16 388.14,492.65 388.89,492.14 389.64,491.63 390.39,491.12 391.14,490.61 391.89,490.10 392.64,489.60 393.38,489.09 394.13,488.58 394.88,488.07 395.63,487.56 396.38,487.05 397.13,486.54 397.88,486.03 398.62,485.52 399.37,485.01 400.12,484.50 400.87,483.99 401.62,483.48 402.37,482.97 403.11,482.46 403.86,481.95 404.61,481.44 405.36,480.93 406.11,480.42 406.86,479.91 407.61,479.40 408.35,478.90 409.10,478.39 409.85,477.88 410.60,477.37 411.35,476.86 412.10,476.35 412.85,475.84 413.59,475.33 414.34,474.82 415.09,474.31 415.84,473.80 416.59,473.29 417.34,472.78 418.08,472.27 418.83,471.76 419.58,471.25 420.33,470.74 421.08,470.23 421.83,469.72 422.58,469.21 423.32,468.70 424.07,468.20 424.82,467.69 425.57,467.18 426.32,466.67 427.07,466.16 427.81,465.65 428.56,465.14 429.31,464.63 430.06,464.12 430.81,463.61 431.56,463.10 432.31,462.59 433.05,462.08 433.80,461.57 434.55,461.06 435.30,460.55 435.30,460.55 436.05,460.78 436.79,461.01 437.54,461.24 438.28,461.47 439.03,461.69 439.78,461.92 440.52,462.15 441.27,462.38 442.01,462.61 442.76,462.83 443.51,463.06 444.25,463.29 445.00,463.52 445.74,463.75 446.49,463.98 447.24,464.20 447.98,464.43 448.73,464.66 449.47,464.89 450.22,465.12 450.97,465.35 451.71,465.57 452.46,465.80 453.20,466.03 453.95,466.26 454.70,466.49 455.44,466.71 456.19,466.94 456.93,467.17 457.68,467.40 458.43,467.63 459.17,467.86 459.92,468.08 460.66,468.31 461.41,468.54 462.16,468.77 462.90,469.00 463.65,469.23 464.39,469.45 465.14,469.68 465.89,469.91 466.63,470.14 467.38,470.37 468.12,470.59 468.87,470.82 469.62,471.05 470.36,471.28 471.11,471.51 471.85,471.74 472.60,471.96 473.35,472.19 474.09,472.42 474.84,472.65 475.58,472.88 476.33,473.11 477.08,473.33 477.82,473.56 478.57,473.79 479.31,474.02 480.06,474.25 480.81,474.47 481.55,474.70 482.30,474.93 483.04,475.16 483.79,475.39 484.54,475.62 485.28,475.84 486.03,476.07 486.77,476.30 487.52,476.53 488.27,476.76 489.01,476.99 489.76,477.21 490.50,477.44 491.25,477.67 492.00,477.90 492.74,478.13 493.49,478.35 494.23,478.58 494.98,478.81 495.73,479.04 496.47,479.27 497.22,479.50 497.96,479.72 498.71,479.95 499.46,480.18 500.20,480.41 500.95,480.64 501.69,480.86 502.44,481.09 503.19,481.32 503.93,481.55 504.68,481.78 505.42,482.01 506.17,482.23 506.92,482.46 507.66,482.69 508.41,482.92 509.15,483.15 509.90,483.38 510.65,483.60 511.39,483.83 512.14,484.06 512.88,484.29 513.63,484.52 514.38,484.74 515.12,484.97 515.87,485.20 516.61,485.43 517.36,485.66 518.11,485.89 518.85,486.11 519.60,486.34 520.34,486.57 521.09,486.80 521.84,487.03 522.58,487.26 523.33,487.48 524.07,487.71 524.82,487.94 525.57,488.17 526.31,488.40 527.06,488.62 527.80,488.85 528.55,489.08 529.30,489.31 530.04,489.54 530.79,489.77 531.53,489.99 532.28,490.22 533.03,490.45 533.77,490.68 534.52,490.91 535.26,491.14 536.01,491.36 536.76,491.59 537.50,491.82 538.25,492.05 538.99,492.28 539.74,492.50 540.49,492.73 541.23,492.96 541.98,493.19 542.72,493.42 543.47,493.65 544.22,493.87 544.96,494.10 545.71,494.33 546.45,494.56 547.20,494.79 547.95,495.02 548.69,495.24 549.44,495.47 550.18,495.70 550.93,495.93 551.68,496.16 552.42,496.38 553.17,496.61 553.91,496.84 554.66,497.07 555.41,497.30 556.15,497.53 556.90,497.75 557.64,497.98 558.39,498.21 559.14,498.44 559.88,498.67 560.63,498.90 561.37,499.12 562.12,499.35 562.87,499.58 563.61,499.81 564.36,500.04 565.10,500.26 565.85,500.49 566.60,500.72 567.34,500.95 568.09,501.18 568.83,501.41 569.58,501.63 570.33,501.86 571.07,502.09 571.82,502.32 572.56,502.55 573.31,502.78 574.06,503.00 574.80,503.23 575.55,503.46 576.29,503.69 577.04,503.92 577.79,504.14 578.53,504.37 579.28,504.60 580.02,504.83 580.77,505.06 581.52,505.29 582.26,505.51 583.01,505.74 583.75,505.97 584.50,506.20 584.50,639.94 583.75,639.88 583.01,639.81 582.26,639.75 581.52,639.68 580.77,639.62 580.02,639.56 579.28,639.49 578.53,639.43 577.79,639.36 577.04,639.30 576.29,639.24 575.55,639.17 574.80,639.11 574.06,639.04 573.31,638.98 572.56,638.92 571.82,638.85 571.07,638.79 570.33,638.72 569.58,638.66 568.83,638.60 568.09,638.53 567.34,638.47 566.60,638.40 565.85,638.34 565.10,638.28 564.36,638.21 563.61,638.15 562.87,638.08 562.12,638.02 561.37,637.96 560.63,637.89 559.88,637.83 559.14,637.76 558.39,637.70 557.64,637.64 556.90,637.57 556.15,637.51 555.41,637.44 554.66,637.38 553.91,637.32 553.17,637.25 552.42,637.19 551.68,637.12 550.93,637.06 550.18,637.00 549.44,636.93 548.69,636.87 547.95,636.80 547.20,636.74 546.45,636.68 545.71,636.61 544.96,636.55 544.22,636.48 543.47,636.42 542.72,636.36 541.98,636.29 541.23,636.23 540.49,636.17 539.74,636.10 538.99,636.04 538.25,635.97 537.50,635.91 536.76,635.85 536.01,635.78 535.26,635.72 534.52,635.65 533.77,635.59 533.03,635.53 532.28,635.46 531.53,635.40 530.79,635.33 530.04,635.27 529.30,635.21 528.55,635.14 527.80,635.08 527.06,635.01 526.31,634.95 525.57,634.89 524.82,634.82 524.07,634.76 523.33,634.69 522.58,634.63 521.84,634.57 521.09,634.50 520.34,634.44 519.60,634.37 518.85,634.31 518.11,634.25 517.36,634.18 516.61,634.12 515.87,634.05 515.12,633.99 514.38,633.93 513.63,633.86 512.88,633.80 512.14,633.73 511.39,633.67 510.65,633.61 509.90,633.54 509.15,633.48 508.41,633.41 507.66,633.35 506.92,633.29 506.17,633.22 505.42,633.16 504.68,633.09 503.93,633.03 503.19,632.97 502.44,632.90 501.69,632.84 500.95,632.78 500.20,632.71 499.46,632.65 498.71,632.58 497.96,632.52 497.22,632.46 496.47,632.39 495.73,632.33 494.98,632.26 494.23,632.20 493.49,632.14 492.74,632.07 492.00,632.01 491.25,631.94 490.50,631.88 489.76,631.82 489.01,631.75 488.27,631.69 487.52,631.62 486.77,631.56 486.03,631.50 485.28,631.43 484.54,631.37 483.79,631.30 483.04,631.24 482.30,631.18 481.55,631.11 480.81,631.05 480.06,630.98 479.31,630.92 478.57,630.86 477.82,630.79 477.08,630.73 476.33,630.66 475.58,630.60 474.84,630.54 474.09,630.47 473.35,630.41 472.60,630.34 471.85,630.28 471.11,630.22 470.36,630.15 469.62,630.09 468.87,630.02 468.12,629.96 467.38,629.90 466.63,629.83 465.89,629.77 465.14,629.70 464.39,629.64 463.65,629.58 462.90,629.51 462.16,629.45 461.41,629.39 460.66,629.32 459.92,629.26 459.17,629.19 458.43,629.13 457.68,629.07 456.93,629.00 456.19,628.94 455.44,628.87 454.70,628.81 453.95,628.75 453.20,628.68 452.46,628.62 451.71,628.55 450.97,628.49 450.22,628.43 449.47,628.36 448.73,628.30 447.98,628.23 447.24,628.17 446.49,628.11 445.74,628.04 445.00,627.98 444.25,627.91 443.51,627.85 442.76,627.79 442.01,627.72 441.27,627.66 440.52,627.59 439.78,627.53 439.03,627.47 438.28,627.40 437.54,627.34 436.79,627.27 436.05,627.21 435.30,627.15 435.30,627.15 434.55,627.22 433.80,627.30 433.05,627.38 432.31,627.46 431.56,627.54 430.81,627.62 430.06,627.70 429.31,627.77 428.56,627.85 427.81,627.93 427.07,628.01 426.32,628.09 425.57,628.17 424.82,628.25 424.07,628.32 423.32,628.40 422.58,628.48 421.83,628.56 421.08,628.64 420.33,628.72 419.58,628.79 418.83,628.87 418.08,628.95 417.34,629.03 416.59,629.11 415.84,629.19 415.09,629.27 414.34,629.34 413.59,629.42 412.85,629.50 412.10,629.58 411.35,629.66 410.60,629.74 409.85,629.82 409.10,629.89 408.35,629.97 407.61,630.05 406.86,630.13 406.11,630.21 405.36,630.29 404.61,630.36 403.86,630.44 403.11,630.52 402.37,630.60 401.62,630.68 400.87,630.76 400.12,630.84 399.37,630.91 398.62,630.99 397.88,631.07 397.13,631.15 396.38,631.23 395.63,631.31 394.88,631.39 394.13,631.46 393.38,631.54 392.64,631.62 391.89,631.70 391.14,631.78 390.39,631.86 389.64,631.93 388.89,632.01 388.14,632.09 387.40,632.17 386.65,632.25 385.90,632.33 385.15,632.41 384.40,632.48 383.65,632.56 382.91,632.64 382.16,632.72 381.41,632.80 380.66,632.88 379.91,632.96 379.16,633.03 378.41,633.11 377.67,633.19 376.92,633.27 376.17,633.35 375.42,633.43 374.67,633.50 373.92,633.58 373.17,633.66 372.43,633.74 371.68,633.82 370.93,633.90 370.18,633.98 369.43,634.05 368.68,634.13 367.94,634.21 367.19,634.29 366.44,634.37 365.69,634.45 364.94,634.53 364.19,634.60 363.44,634.68 362.70,634.76 361.95,634.84 361.20,634.92 360.45,635.00 359.70,635.07 358.95,635.15 358.20,635.23 357.46,635.31 356.71,635.39 355.96,635.47 355.21,635.55 354.46,635.62 353.71,635.70 352.97,635.78 352.22,635.86 351.47,635.94 350.72,636.02 349.97,636.10 349.22,636.17 348.47,636.25 347.73,636.33 346.98,636.41 346.23,636.49 345.48,636.57 344.73,636.64 343.98,636.72 343.23,636.80 342.49,636.88 341.74,636.96 340.99,637.04 340.24,637.12 339.49,637.19 338.74,637.27 338.00,637.35 337.25,637.43 336.50,637.51 335.75,637.59 335.00,637.67 334.25,637.74 333.50,637.82 332.76,637.90 332.01,637.98 331.26,638.06 330.51,638.14 329.76,638.21 329.01,638.29 328.26,638.37 327.52,638.45 326.77,638.53 326.02,638.61 325.27,638.69 324.52,638.76 323.77,638.84 323.03,638.92 322.28,639.00 321.53,639.08 320.78,639.16 320.03,639.24 319.28,639.31 318.53,639.39 317.79,639.47 317.04,639.55 316.29,639.63 315.54,639.71 314.79,639.78 314.04,639.86 313.29,639.94 312.55,640.02 311.80,640.10 311.05,640.18 310.30,640.26 309.55,640.33 308.80,640.41 308.06,640.49 307.31,640.57 306.56,640.65 305.81,640.73 305.06,640.81 304.31,640.88 303.56,640.96 302.82,641.04 302.07,641.12 301.32,641.20 300.57,641.28 299.82,641.35 299.07,641.43 298.32,641.51 297.58,641.59 296.83,641.67 296.08,641.75 295.33,641.83 294.58,641.90 293.83,641.98 293.09,642.06 292.34,642.14 291.59,642.22 290.84,642.30 290.09,642.38 289.34,642.45 288.59,642.53 287.85,642.61 287.10,642.69 286.35,642.77 285.60,642.85 285.60,642.85 284.85,642.97 284.10,643.09 283.36,643.22 282.61,643.34 281.86,643.46 281.11,643.59 280.36,643.71 279.62,643.83 278.87,643.96 278.12,644.08 277.37,644.21 276.62,644.33 275.88,644.45 275.13,644.58 274.38,644.70 273.63,644.82 272.88,644.95 272.14,645.07 271.39,645.19 270.64,645.32 269.89,645.44 269.14,645.56 268.40,645.69 267.65,645.81 266.90,645.94 266.15,646.06 265.40,646.18 264.66,646.31 263.91,646.43 263.16,646.55 262.41,646.68 261.66,646.80 260.92,646.92 260.17,647.05 259.42,647.17 258.67,647.29 257.92,647.42 257.18,647.54 256.43,647.67 255.68,647.79 254.93,647.91 254.18,648.04 253.44,648.16 252.69,648.28 251.94,648.41 251.19,648.53 250.44,648.65 249.70,648.78 248.95,648.90 248.20,649.02 247.45,649.15 246.70,649.27 245.96,649.40 245.21,649.52 244.46,649.64 243.71,649.77 242.96,649.89 242.22,650.01 241.47,650.14 240.72,650.26 239.97,650.38 239.22,650.51 238.48,650.63 237.73,650.75 236.98,650.88 236.23,651.00 235.48,651.13 234.74,651.29 233.99,651.44 233.24,651.59 232.49,651.77 231.74,652.37 231.00,652.98 230.25,653.58 229.50,654.19 228.75,654.79 228.00,655.39 227.26,656.00 226.51,656.60 225.76,657.21 225.01,657.81 224.26,658.42 223.52,659.02 222.77,659.63 222.02,660.23 221.27,660.84 220.52,661.44 219.78,662.05 219.03,662.65 218.28,663.26 217.53,663.86 216.78,664.47 216.04,665.07 215.29,665.68 214.54,666.28 213.79,666.88 213.04,667.49 212.30,668.09 211.55,668.70 210.80,669.30 210.05,669.91 209.30,670.51 208.56,671.12 207.81,671.72 207.06,672.33 206.31,672.93 205.56,673.54 204.82,674.14 204.07,674.75 203.32,675.35 202.57,675.96 201.82,676.56 201.08,677.17 200.33,677.77 199.58,678.37 198.83,678.98 198.08,679.58 197.34,680.19 196.59,680.79 195.84,681.40 195.09,682.00 194.34,682.61 193.60,683.21 192.85,683.82 192.10,684.42 191.35,685.03 190.60,685.63 189.86,686.24 189.11,686.84 188.36,687.45 187.61,688.05 186.86,688.66 186.12,689.26 185.37,689.86 184.62,690.47 183.87,691.07 183.12,691.68 182.38,692.28 181.63,692.89 180.88,693.49 180.13,694.10 179.38,694.70 178.64,695.31 177.89,695.91 177.14,696.52 176.39,697.12 175.64,697.73 174.90,698.33 174.15,698.94 173.40,699.54 172.65,700.15 171.90,700.75 171.16,701.35 170.41,701.96 169.66,702.56 168.91,703.17 168.16,703.77 167.42,704.38 166.67,704.98 165.92,705.59 165.17,706.19 164.42,706.80 163.68,707.40 162.93,708.01 162.18,708.61 161.43,709.22 160.68,709.82 159.94,710.43 159.19,711.03 158.44,711.64 157.69,712.24 156.94,712.84 156.20,713.45 155.45,714.05 154.70,714.66 153.95,715.26 153.20,715.87 152.46,716.47 151.71,717.08 150.96,717.68 150.21,718.29 149.46,718.89 148.72,719.50 147.97,720.10 147.22,720.71 146.47,721.31 145.72,721.92 144.98,722.52 144.23,723.13 143.48,723.73 142.73,724.33 141.98,724.94 141.24,725.54 140.49,726.15 139.74,726.75 138.99,727.36 138.24,727.96 137.50,728.57 136.75,729.17 136.00,729.78" fill="#E98A29" stroke="none"/>
<polygon points="136.00,638.19 136.75,638.00 137.50,637.80 138.24,637.60 138.99,637.40 139.74,637.20 140.49,637.00 141.24,636.81 141.98,636.61 142.73,636.41 143.48,636.21 144.23,636.01 144.98,635.81 145.72,635.61 146.47,635.42 147.22,635.22 147.97,635.02 148.72,634.82 149.46,634.62 150.21,634.42 150.96,634.23 151.71,634.03 152.46,633.83 153.20,633.63 153.95,633.43 154.70,633.23 155.45,633.04 156.20,632.84 156.94,632.64 157.69,632.44 158.44,632.24 159.19,632.04 159.94,631.84 160.68,631.65 161.43,631.45 162.18,631.25 162.93,631.05 163.68,630.85 164.42,630.65 165.17,630.46 165.92,630.26 166.67,630.06 167.42,629.86 168.16,629.66 168.91,629.46 169.66,629.27 170.41,629.07 171.16,628.87 171.90,628.67 172.65,628.47 173.40,628.27 174.15,628.07 174.90,627.88 175.64,627.68 176.39,627.48 177.14,627.28 177.89,627.08 178.64,626.88 179.38,626.69 180.13,626.49 180.88,626.29 181.63,626.09 182.38,625.89 183.12,625.69 183.87,625.50 184.62,625.30 185.37,625.10 186.12,624.90 186.86,624.70 187.61,624.50 188.36,624.30 189.11,624.11 189.86,623.91 190.60,623.71 191.35,623.51 192.10,623.31 192.85,623.11 193.60,622.92 194.34,622.72 195.09,622.52 195.84,622.32 196.59,622.12 197.34,621.92 198.08,621.72 198.83,621.53 199.58,621.33 200.33,621.13 201.08,620.93 201.82,620.73 202.57,620.53 203.32,620.34 204.07,620.14 204.82,619.94 205.56,619.74 206.31,619.54 207.06,619.34 207.81,619.15 208.56,618.95 209.30,618.75 210.05,618.55 210.80,618.35 211.55,618.15 212.30,617.95 213.04,617.76 213.79,617.56 214.54,617.36 215.29,617.16 216.04,616.96 216.78,616.76 217.53,616.57 218.28,616.37 219.03,616.17 219.78,615.67 220.52,615.07 221.27,614.46 222.02,613.86 222.77,613.25 223.52,612.65 224.26,612.05 225.01,611.44 225.76,610.84 226.51,610.23 227.26,609.63 228.00,609.02 228.75,608.42 229.50,607.81 230.25,607.21 231.00,606.60 231.74,606.00 232.49,605.39 233.24,604.79 233.99,604.18 234.74,603.58 235.48,602.97 236.23,602.37 236.98,601.76 237.73,601.16 238.48,600.56 239.22,599.95 239.97,599.35 240.72,598.74 241.47,598.14 242.22,597.53 242.96,596.93 243.71,596.32 244.46,595.72 245.21,595.11 245.96,594.51 246.70,593.90 247.45,593.30 248.20,592.69 248.95,592.09 249.70,591.48 250.44,590.88 251.19,590.27 251.94,589.67 252.69,589.07 253.44,588.46 254.18,587.86 254.93,587.25 255.68,586.65 256.43,586.04 257.18,585.44 257.92,584.83 258.67,584.23 259.42,583.62 260.17,583.02 260.92,582.41 261.66,581.81 262.41,581.20 263.16,580.60 263.91,579.99 264.66,579.39 265.40,578.78 266.15,578.18 266.90,577.58 267.65,576.97 268.40,576.37 269.14,575.76 269.89,575.16 270.64,574.55 271.39,573.95 272.14,573.34 272.88,572.74 273.63,572.13 274.38,571.53 275.13,570.92 275.88,570.32 276.62,569.71 277.37,569.11 278.12,568.50 278.87,567.90 279.62,567.29 280.36,566.69 281.11,566.09 281.86,565.48 282.61,564.88 283.36,564.27 284.10,563.67 284.85,563.06 285.60,562.46 285.60,562.46 286.35,561.95 287.10,561.44 287.85,560.93 288.59,560.42 289.34,559.91 290.09,559.40 290.84,558.89 291.59,558.38 292.34,557.87 293.09,557.36 293.83,556.85 294.58,556.34 295.33,555.83 296.08,555.32 296.83,554.81 297.58,554.30 298.32,553.79 299.07,553.29 299.82,552.78 300.57,552.27 301.32,551.76 302.07,551.25 302.82,550.74 303.56,550.23 304.31,549.72 305.06,549.21 305.81,548.70 306.56,548.19 307.31,547.68 308.06,547.17 308.80,546.66 309.55,546.15 310.30,545.64 311.05,545.13 311.80,544.62 312.55,544.11 313.29,543.60 314.04,543.09 314.79,542.59 315.54,542.08 316.29,541.57 317.04,541.06 317.79,540.55 318.53,540.04 319.28,539.53 320.03,539.02 320.78,538.51 321.53,538.00 322.28,537.49 323.03,536.98 323.77,536.47 324.52,535.96 325.27,535.45 326.02,534.94 326.77,534.43 327.52,533.92 328.26,533.41 329.01,532.90 329.76,532.39 330.51,531.89 331.26,531.38 332.01,530.87 332.76,530.36 333.50,529.85 334.25,529.34 335.00,528.83 335.75,528.32 336.50,527.81 337.25,527.30 338.00,526.79 338.74,526.28 339.49,525.77 340.24,525.26 340.99,524.75 341.74,524.24 342.49,523.73 343.23,523.22 343.98,522.71 344.73,522.20 345.48,521.70 346.23,521.19 346.98,520.68 347.73,520.17 348.47,519.66 349.22,519.15 349.97,518.64 350.72,518.13 351.47,517.62 352.22,517.11 352.97,516.60 353.71,516.09 354.46,515.58 355.21,515.07 355.96,514.56 356.71,514.05 357.46,513.54 358.20,513.03 358.95,512.52 359.70,512.01 360.45,511.50 361.20,511.00 361.95,510.49 362.70,509.98 363.44,509.47 364.19,508.96 364.94,508.45 365.69,507.94 366.44,507.43 367.19,506.92 367.94,506.41 368.68,505.90 369.43,505.39 370.18,504.88 370.93,504.37 371.68,503.86 372.43,503.35 373.17,502.84 373.92,502.33 374.67,501.82 375.42,501.31 376.17,500.80 376.92,500.30 377.67,499.79 378.41,499.28 379.16,498.77 379.91,498.26 380.66,497.75 381.41,497.24 382.16,496.73 382.91,496.22 383.65,495.71 384.40,495.20 385.15,494.69 385.90,494.18 386.65,493.67 387.40,493.16 388.14,492.65 388.89,492.14 389.64,491.63 390.39,491.12 391.14,490.61 391.89,490.10 392.64,489.60 393.38,489.09 394.13,488.58 394.88,488.07 395.63,487.56 396.38,487.05 397.13,486.54 397.88,486.03 398.62,485.52 399.37,485.01 400.12,484.50 400.87,483.99 401.62,483.48 402.37,482.97 403.11,482.46 403.86,481.95 404.61,481.44 405.36,480.93 406.11,480.42 406.86,479.91 407.61,479.40 408.35,478.90 409.10,478.39 409.85,477.88 410.60,477.37 411.35,476.86 412.10,476.35 412.85,475.84 413.59,475.33 414.34,474.82 415.09,474.31 415.84,473.80 416.59,473.29 417.34,472.78 418.08,472.27 418.83,471.76 419.58,471.25 420.33,470.74 421.08,470.23 421.83,469.72 422.58,469.21 423.32,468.70 424.07,468.20 424.82,467.69 425.57,467.18 426.32,466.67 427.07,466.16 427.81,465.65 428.56,465.14 429.31,464.63 430.06,464.12 430.81,463.61 431.56,463.10 432.31,462.59 433.05,462.08 433.80,461.57 434.55,461.06 435.30,460.55 435.30,460.55 436.05,460.78 436.79,461.01 437.54,461.24 438.28,461.47 439.03,461.69 439.78,461.92 440.52,462.15 441.27,462.38 442.01,462.61 442.76,462.83 443.51,463.06 444.25,463.29 445.00,463.52 445.74,463.75 446.49,463.98 447.24,464.20 447.98,464.43 448.73,464.66 449.47,464.89 450.22,465.12 450.97,465.35 451.71,465.57 452.46,465.80 453.20,466.03 453.95,466.26 454.70,466.49 455.44,466.71 456.19,466.94 456.93,467.17 457.68,467.40 458.43,467.63 459.17,467.86 459.92,468.08 460.66,468.31 461.41,468.54 462.16,468.77 462.90,469.00 463.65,469.23 464.39,469.45 465.14,469.68 465.89,469.91 466.63,470.14 467.38,470.37 468.12,470.59 468.87,470.82 469.62,471.05 470.36,471.28 471.11,471.51 471.85,471.74 472.60,471.96 473.35,472.19 474.09,472.42 474.84,472.65 475.58,472.88 476.33,473.11 477.08,473.33 477.82,473.56 478.57,473.79 479.31,474.02 480.06,474.25 480.81,474.47 481.55,474.70 482.30,474.93 483.04,475.16 483.79,475.39 484.54,475.62 485.28,475.84 486.03,476.07 486.77,476.30 487.52,476.53 488.27,476.76 489.01,476.99 489.76,477.21 490.50,477.44 491.25,477.67 492.00,477.90 492.74,478.13 493.49,478.35 494.23,478.58 494.98,478.81 495.73,479.04 496.47,479.27 497.22,479.50 497.96,479.72 498.71,479.95 499.46,480.18 500.20,480.41 500.95,480.64 501.69,480.86 502.44,481.09 503.19,481.32 503.93,481.55 504.68,481.78 505.42,482.01 506.17,482.23 506.92,482.46 507.66,482.69 508.41,482.92 509.15,483.15 509.90,483.38 510.65,483.60 511.39,483.83 512.14,484.06 512.88,484.29 513.63,484.52 514.38,484.74 515.12,484.97 515.87,485.20 516.61,485.43 517.36,485.66 518.11,485.89 518.85,486.11 519.60,486.34 520.34,486.57 521.09,486.80 521.84,487.03 522.58,487.26 523.33,487.48 524.07,487.71 524.82,487.94 525.57,488.17 526.31,488.40 527.06,488.62 527.80,488.85 528.55,489.08 529.30,489.31 530.04,489.54 530.79,489.77 531.53,489.99 532.28,490.22 533.03,490.45 533.77,490.68 534.52,490.91 535.26,491.14 536.01,491.36 536.76,491.59 537.50,491.82 538.25,492.05 538.99,492.28 539.74,492.50 540.49,492.73 541.23,492.96 541.98,493.19 542.72,493.42 543.47,493.65 544.22,493.87 544.96,494.10 545.71,494.33 546.45,494.56 547.20,494.79 547.95,495.02 548.69,495.24 549.44,495.47 550.18,495.70 550.93,495.93 551.68,496.16 552.42,496.38 553.17,496.61 553.91,496.84 554.66,497.07 555.41,497.30 556.15,497.53 556.90,497.75 557.64,497.98 558.39,498.21 559.14,498.44 559.88,498.67 560.63,498.90 561.37,499.12 562.12,499.35 562.87,499.58 563.61,499.81 564.36,500.04 565.10,500.26 565.85,500.49 566.60,500.72 567.34,500.95 568.09,501.18 568.83,501.41 569.58,501.63 570.33,501.86 571.07,502.09 571.82,502.32 572.56,502.55 573.31,502.78 574.06,503.00 574.80,503.23 575.55,503.46 576.29,503.69 577.04,503.92 577.79,504.14 578.53,504.37 579.28,504.60 580.02,504.83 580.77,505.06 581.52,505.29 582.26,505.51 583.01,505.74 583.75,505.97 584.50,506.20 584.50,537.83 583.75,537.73 583.01,537.63 582.26,537.54 581.52,537.44 580.77,537.34 580.02,537.25 579.28,537.15 578.53,537.05 577.79,536.96 577.04,536.86 576.29,536.76 575.55,536.67 574.80,536.57 574.06,536.47 573.31,536.37 572.56,536.28 571.82,536.18 571.07,536.08 570.33,535.99 569.58,535.89 568.83,535.79 568.09,535.70 567.34,535.60 566.60,535.50 565.85,535.41 565.10,535.31 564.36,535.21 563.61,535.12 562.87,535.02 562.12,534.92 561.37,534.83 560.63,534.73 559.88,534.63 559.14,534.54 558.39,534.44 557.64,534.34 556.90,534.25 556.15,534.15 555.41,534.05 554.66,533.96 553.91,533.86 553.17,533.76 552.42,533.67 551.68,533.57 550.93,533.47 550.18,533.38 549.44,533.28 548.69,533.18 547.95,533.09 547.20,532.99 546.45,532.89 545.71,532.80 544.96,532.70 544.22,532.60 543.47,532.51 542.72,532.41 541.98,532.31 541.23,532.22 540.49,532.12 539.74,532.02 538.99,531.93 538.25,531.83 537.50,531.73 536.76,531.64 536.01,531.54 535.26,531.44 534.52,531.35 533.77,531.25 533.03,531.15 532.28,531.06 531.53,530.96 530.79,530.86 530.04,530.77 529.30,530.67 528.55,530.57 527.80,530.48 527.06,530.38 526.31,530.28 525.57,530.19 524.82,530.09 524.07,529.99 523.33,529.90 522.58,529.80 521.84,529.70 521.09,529.61 520.34,529.51 519.60,529.41 518.85,529.32 518.11,529.22 517.36,529.12 516.61,529.03 515.87,528.93 515.12,528.83 514.38,528.74 513.63,528.64 512.88,528.54 512.14,528.45 511.39,528.35 510.65,528.25 509.90,528.16 509.15,528.06 508.41,527.96 507.66,527.87 506.92,527.77 506.17,527.67 505.42,527.58 504.68,527.48 503.93,527.38 503.19,527.29 502.44,527.19 501.69,527.09 500.95,527.00 500.20,526.90 499.46,526.80 498.71,526.71 497.96,526.61 497.22,526.51 496.47,526.42 495.73,526.32 494.98,526.22 494.23,526.13 493.49,526.03 492.74,525.93 492.00,525.84 491.25,525.74 490.50,525.64 489.76,525.55 489.01,525.45 488.27,525.35 487.52,525.26 486.77,525.16 486.03,525.06 485.28,524.97 484.54,524.87 483.79,524.77 483.04,524.68 482.30,524.58 481.55,524.48 480.81,524.39 480.06,524.29 479.31,524.19 478.57,524.10 477.82,524.00 477.08,523.90 476.33,523.81 475.58,523.71 474.84,523.61 474.09,523.52 473.35,523.42 472.60,523.32 471.85,523.23 471.11,523.13 470.36,523.03 469.62,522.94 468.87,522.84 468.12,522.74 467.38,522.65 466.63,522.55 465.89,522.45 465.14,522.36 464.39,522.26 463.65,522.16 462.90,522.07 462.16,521.97 461.41,521.87 460.66,521.78 459.92,521.68 459.17,521.58 458.43,521.49 457.68,521.39 456.93,521.29 456.19,521.20 455.44,521.10 454.70,521.00 453.95,520.91 453.20,520.81 452.46,520.71 451.71,520.62 450.97,520.52 450.22,520.42 449.47,520.33 448.73,520.23 447.98,520.13 447.24,520.04 446.49,519.94 445.74,519.84 445.00,519.75 444.25,519.65 443.51,519.55 442.76,519.46 442.01,519.36 441.27,519.26 440.52,519.16 439.78,519.07 439.03,518.97 438.28,518.87 437.54,518.78 436.79,518.68 436.05,518.58 435.30,518.49 435.30,518.49 434.55,518.81 433.80,519.14 433.05,519.46 432.31,519.78 431.56,520.11 430.81,520.43 430.06,520.76 429.31,521.08 428.56,521.40 427.81,521.73 427.07,522.05 426.32,522.38 425.57,522.70 424.82,523.02 424.07,523.35 423.32,523.67 422.58,524.00 421.83,524.32 421.08,524.64 420.33,524.97 419.58,525.29 418.83,525.62 418.08,525.94 417.34,526.26 416.59,526.59 415.84,526.91 415.09,527.24 414.34,527.56 413.59,527.88 412.85,528.21 412.10,528.53 411.35,528.86 410.60,529.18 409.85,529.50 409.10,529.83 408.35,530.15 407.61,530.48 406.86,530.80 406.11,531.12 405.36,531.45 404.61,531.77 403.86,532.09 403.11,532.42 402.37,532.74 401.62,533.07 400.87,533.39 400.12,533.71 399.37,534.04 398.62,534.36 397.88,534.69 397.13,535.01 396.38,535.33 395.63,535.66 394.88,535.98 394.13,536.31 393.38,536.63 392.64,536.95 391.89,537.28 391.14,537.60 390.39,537.93 389.64,538.25 388.89,538.57 388.14,538.90 387.40,539.22 386.65,539.55 385.90,539.87 385.15,540.19 384.40,540.52 383.65,540.84 382.91,541.17 382.16,541.49 381.41,541.81 380.66,542.14 379.91,542.46 379.16,542.79 378.41,543.11 377.67,543.43 376.92,543.76 376.17,544.08 375.42,544.41 374.67,544.73 373.92,545.05 373.17,545.38 372.43,545.70 371.68,546.03 370.93,546.35 370.18,546.67 369.43,547.00 368.68,547.32 367.94,547.65 367.19,547.97 366.44,548.29 365.69,548.62 364.94,548.94 364.19,549.27 363.44,549.59 362.70,549.91 361.95,550.24 361.20,550.56 360.45,550.89 359.70,551.21 358.95,551.53 358.20,551.86 357.46,552.18 356.71,552.51 355.96,552.83 355.21,553.15 354.46,553.48 353.71,553.80 352.97,554.13 352.22,554.45 351.47,554.77 350.72,555.10 349.97,555.42 349.22,555.74 348.47,556.07 347.73,556.39 346.98,556.72 346.23,557.04 345.48,557.36 344.73,557.69 343.98,558.01 343.23,558.34 342.49,558.66 341.74,558.98 340.99,559.31 340.24,559.63 339.49,559.96 338.74,560.28 338.00,560.60 337.25,560.93 336.50,561.25 335.75,561.58 335.00,561.90 334.25,562.22 333.50,562.55 332.76,562.87 332.01,563.20 331.26,563.52 330.51,563.84 329.76,564.17 329.01,564.49 328.26,564.82 327.52,565.14 326.77,565.46 326.02,565.79 325.27,566.11 324.52,566.44 323.77,566.76 323.03,567.08 322.28,567.41 321.53,567.73 320.78,568.06 320.03,568.38 319.28,568.70 318.53,569.03 317.79,569.35 317.04,569.68 316.29,570.00 315.54,570.32 314.79,570.65 314.04,570.97 313.29,571.30 312.55,571.62 311.80,571.94 311.05,572.27 310.30,572.59 309.55,572.92 308.80,573.24 308.06,573.56 307.31,573.89 306.56,574.21 305.81,574.54 305.06,574.86 304.31,575.18 303.56,575.51 302.82,575.83 302.07,576.16 301.32,576.48 300.57,576.80 299.82,577.13 299.07,577.45 298.32,577.77 297.58,578.10 296.83,578.42 296.08,578.75 295.33,579.07 294.58,579.39 293.83,579.72 293.09,580.04 292.34,580.37 291.59,580.69 290.84,581.01 290.09,581.34 289.34,581.66 288.59,581.99 287.85,582.31 287.10,582.63 286.35,582.96 285.60,583.28 285.60,583.28 284.85,583.73 284.10,584.17 283.36,584.61 282.61,585.06 281.86,585.57 281.11,586.30 280.36,587.02 279.62,587.75 278.87,588.48 278.12,589.20 277.37,589.93 276.62,590.66 275.88,591.39 275.13,592.11 274.38,592.84 273.63,593.57 272.88,594.29 272.14,595.02 271.39,595.75 270.64,596.47 269.89,597.20 269.14,597.93 268.40,598.65 267.65,599.38 266.90,600.11 266.15,600.83 265.40,601.56 264.66,602.29 263.91,603.02 263.16,603.74 262.41,604.47 261.66,605.20 260.92,605.92 260.17,606.65 259.42,607.38 258.67,608.10 257.92,608.83 257.18,609.56 256.43,610.28 255.68,611.01 254.93,611.74 254.18,612.46 253.44,613.19 252.69,613.92 251.94,614.64 251.19,615.37 250.44,616.10 249.70,616.83 248.95,617.55 248.20,618.28 247.45,619.01 246.70,619.73 245.96,620.46 245.21,621.19 244.46,621.91 243.71,622.64 242.96,623.37 242.22,624.09 241.47,624.82 240.72,625.55 239.97,626.27 239.22,627.00 238.48,627.73 237.73,628.45 236.98,629.18 236.23,629.91 235.48,630.64 234.74,631.36 233.99,632.09 233.24,632.82 232.49,633.54 231.74,634.27 231.00,635.00 230.25,635.72 229.50,636.45 228.75,637.18 228.00,637.90 227.26,638.63 226.51,639.36 225.76,640.08 225.01,640.81 224.26,641.54 223.52,642.26 222.77,642.99 222.02,643.72 221.27,644.45 220.52,645.17 219.78,645.90 219.03,646.63 218.28,647.35 217.53,648.08 216.78,648.81 216.04,649.53 215.29,650.26 214.54,650.99 213.79,651.71 213.04,652.44 212.30,653.17 211.55,653.89 210.80,654.62 210.05,655.35 209.30,656.08 208.56,656.80 207.81,657.53 207.06,658.26 206.31,658.98 205.56,659.71 204.82,660.44 204.07,661.16 203.32,661.89 202.57,662.62 201.82,663.34 201.08,664.07 200.33,664.80 199.58,665.52 198.83,666.25 198.08,666.98 197.34,667.70 196.59,668.43 195.84,669.16 195.09,669.89 194.34,670.61 193.60,671.34 192.85,672.07 192.10,672.79 191.35,673.52 190.60,674.25 189.86,674.97 189.11,675.70 188.36,676.43 187.61,677.15 186.86,677.88 186.12,678.61 185.37,679.33 184.62,680.06 183.87,680.79 183.12,681.51 182.38,682.24 181.63,682.97 180.88,683.70 180.13,684.42 179.38,685.15 178.64,685.88 177.89,686.60 177.14,687.33 176.39,688.06 175.64,688.78 174.90,689.51 174.15,690.24 173.40,690.96 172.65,691.69 171.90,692.42 171.16,693.14 170.41,693.87 169.66,694.60 168.91,695.32 168.16,696.05 167.42,696.78 166.67,697.51 165.92,698.23 165.17,698.96 164.42,699.69 163.68,700.41 162.93,701.14 162.18,701.87 161.43,702.59 160.68,703.32 159.94,704.05 159.19,704.77 158.44,705.50 157.69,706.23 156.94,706.95 156.20,707.68 155.45,708.41 154.70,709.14 153.95,709.86 153.20,710.59 152.46,711.32 151.71,712.04 150.96,712.77 150.21,713.50 149.46,714.22 148.72,714.95 147.97,715.68 147.22,716.40 146.47,717.13 145.72,717.86 144.98,718.58 144.23,719.31 143.48,720.04 142.73,720.76 141.98,721.49 141.24,722.22 140.49,722.95 139.74,723.67 138.99,724.40 138.24,725.13 137.50,725.85 136.75,726.58 136.00,727.31" fill="#DF9536" stroke="none"/>
<polygon points="136.00,727.31 136.75,726.58 137.50,725.85 138.24,725.13 138.99,724.40 139.74,723.67 140.49,722.95 141.24,722.22 141.98,721.49 142.73,720.76 143.48,720.04 144.23,719.31 144.98,718.58 145.72,717.86 146.47,717.13 147.22,716.40 147.97,715.68 148.72,714.95 149.46,714.22 150.21,713.50 150.96,712.77 151.71,712.04 152.46,711.32 153.20,710.59 153.95,709.86 154.70,709.14 155.45,708.41 156.20,707.68 156.94,706.95 157.69,706.23 158.44,705.50 159.19,704.77 159.94,704.05 160.68,703.32 161.43,702.59 162.18,701.87 162.93,701.14 163.68,700.41 164.42,699.69 165.17,698.96 165.92,698.23 166.67,697.51 167.42,696.78 168.16,696.05 168.91,695.32 169.66,694.60 170.41,693.87 171.16,693.14 171.90,692.42 172.65,691.69 173.40,690.96 174.15,690.24 174.90,689.51 175.64,688.78 176.39,688.06 177.14,687.33 177.89,686.60 178.64,685.88 179.38,685.15 180.13,684.42 180.88,683.70 181.63,682.97 182.38,682.24 183.12,681.51 183.87,680.79 184.62,680.06 185.37,679.33 186.12,678.61 186.86,677.88 187.61,677.15 188.36,676.43 189.11,675.70 189.86,674.97 190.60,674.25 191.35,673.52 192.10,672.79 192.85,672.07 193.60,671.34 194.34,670.61 195.09,669.89 195.84,669.16 196.59,668.43 197.34,667.70 198.08,666.98 198.83,666.25 199.58,665.52 200.33,664.80 201.08,664.07 201.82,663.34 202.57,662.62 203.32,661.89 204.07,661.16 204.82,660.44 205.56,659.71 206.31,658.98 207.06,658.26 207.81,657.53 208.56,656.80 209.30,656.08 210.05,655.35 210.80,654.62 211.55,653.89 212.30,653.17 213.04,652.44 213.79,651.71 214.54,650.99 215.29,650.26 216.04,649.53 216.78,648.81 217.53,648.08 218.28,647.35 219.03,646.63 219.78,645.90 220.52,645.17 221.27,644.45 222.02,643.72 222.77,642.99 223.52,642.26 224.26,641.54 225.01,640.81 225.76,640.08 226.51,639.36 227.26,638.63 228.00,637.90 228.75,637.18 229.50,636.45 230.25,635.72 231.00,635.00 231.74,634.27 232.49,633.54 233.24,632.82 233.99,632.09 234.74,631.36 235.48,630.64 236.23,629.91 236.98,629.18 237.73,628.45 238.48,627.73 239.22,627.00 239.97,626.27 240.72,625.55 241.47,624.82 242.22,624.09 242.96,623.37 243.71,622.64 244.46,621.91 245.21,621.19 245.96,620.46 246.70,619.73 247.45,619.01 248.20,618.28 248.95,617.55 249.70,616.83 250.44,616.10 251.19,615.37 251.94,614.64 252.69,613.92 253.44,613.19 254.18,612.46 254.93,611.74 255.68,611.01 256.43,610.28 257.18,609.56 257.92,608.83 258.67,608.10 259.42,607.38 260.17,606.65 260.92,605.92 261.66,605.20 262.41,604.47 263.16,603.74 263.91,603.02 264.66,602.29 265.40,601.56 266.15,600.83 266.90,600.11 267.65,599.38 268.40,598.65 269.14,597.93 269.89,597.20 270.64,596.47 271.39,595.75 272.14,595.02 272.88,594.29 273.63,593.57 274.38,592.84 275.13,592.11 275.88,591.39 276.62,590.66 277.37,589.93 278.12,589.20 278.87,588.48 279.62,587.75 280.36,587.02 281.11,586.30 281.86,585.57 282.61,585.06 283.36,584.61 284.10,584.17 284.85,583.73 285.60,583.28 285.60,583.28 286.35,582.96 287.10,582.63 287.85,582.31 288.59,581.99 289.34,581.66 290.09,581.34 290.84,581.01 291.59,580.69 292.34,580.37 293.09,580.04 293.83,579.72 294.58,579.39 295.33,579.07 296.08,578.75 296.83,578.42 297.58,578.10 298.32,577.77 299.07,577.45 299.82,577.13 300.57,576.80 301.32,576.48 302.07,576.16 302.82,575.83 303.56,575.51 304.31,575.18 305.06,574.86 305.81,574.54 306.56,574.21 307.31,573.89 308.06,573.56 308.80,573.24 309.55,572.92 310.30,572.59 311.05,572.27 311.80,571.94 312.55,571.62 313.29,571.30 314.04,570.97 314.79,570.65 315.54,570.32 316.29,570.00 317.04,569.68 317.79,569.35 318.53,569.03 319.28,568.70 320.03,568.38 320.78,568.06 321.53,567.73 322.28,567.41 323.03,567.08 323.77,566.76 324.52,566.44 325.27,566.11 326.02,565.79 326.77,565.46 327.52,565.14 328.26,564.82 329.01,564.49 329.76,564.17 330.51,563.84 331.26,563.52 332.01,563.20 332.76,562.87 333.50,562.55 334.25,562.22 335.00,561.90 335.75,561.58 336.50,561.25 337.25,560.93 338.00,560.60 338.74,560.28 339.49,559.96 340.24,559.63 340.99,559.31 341.74,558.98 342.49,558.66 343.23,558.34 343.98,558.01 344.73,557.69 345.48,557.36 346.23,557.04 346.98,556.72 347.73,556.39 348.47,556.07 349.22,555.74 349.97,555.42 350.72,555.10 351.47,554.77 352.22,554.45 352.97,554.13 353.71,553.80 354.46,553.48 355.21,553.15 355.96,552.83 356.71,552.51 357.46,552.18 358.20,551.86 358.95,551.53 359.70,551.21 360.45,550.89 361.20,550.56 361.95,550.24 362.70,549.91 363.44,549.59 364.19,549.27 364.94,548.94 365.69,548.62 366.44,548.29 367.19,547.97 367.94,547.65 368.68,547.32 369.43,547.00 370.18,546.67 370.93,546.35 371.68,546.03 372.43,545.70 373.17,545.38 373.92,545.05 374.67,544.73 375.42,544.41 376.17,544.08 376.92,543.76 377.67,543.43 378.41,543.11 379.16,542.79 379.91,542.46 380.66,542.14 381.41,541.81 382.16,541.49 382.91,541.17 383.65,540.84 384.40,540.52 385.15,540.19 385.90,539.87 386.65,539.55 387.40,539.22 388.14,538.90 388.89,538.57 389.64,538.25 390.39,537.93 391.14,537.60 391.89,537.28 392.64,536.95 393.38,536.63 394.13,536.31 394.88,535.98 395.63,535.66 396.38,535.33 397.13,535.01 397.88,534.69 398.62,534.36 399.37,534.04 400.12,533.71 400.87,533.39 401.62,533.07 402.37,532.74 403.11,532.42 403.86,532.09 404.61,531.77 405.36,531.45 406.11,531.12 406.86,530.80 407.61,530.48 408.35,530.15 409.10,529.83 409.85,529.50 410.60,529.18 411.35,528.86 412.10,528.53 412.85,528.21 413.59,527.88 414.34,527.56 415.09,527.24 415.84,526.91 416.59,526.59 417.34,526.26 418.08,525.94 418.83,525.62 419.58,525.29 420.33,524.97 421.08,524.64 421.83,524.32 422.58,524.00 423.32,523.67 424.07,523.35 424.82,523.02 425.57,522.70 426.32,522.38 427.07,522.05 427.81,521.73 428.56,521.40 429.31,521.08 430.06,520.76 430.81,520.43 431.56,520.11 432.31,519.78 433.05,519.46 433.80,519.14 434.55,518.81 435.30,518.49 435.30,518.49 436.05,518.58 436.79,518.68 437.54,518.78 438.28,518.87 439.03,518.97 439.78,519.07 440.52,519.16 441.27,519.26 442.01,519.36 442.76,519.46 443.51,519.55 444.25,519.65 445.00,519.75 445.74,519.84 446.49,519.94 447.24,520.04 447.98,520.13 448.73,520.23 449.47,520.33 450.22,520.42 450.97,520.52 451.71,520.62 452.46,520.71 453.20,520.81 453.95,520.91 454.70,521.00 455.44,521.10 456.19,521.20 456.93,521.29 457.68,521.39 458.43,521.49 459.17,521.58 459.92,521.68 460.66,521.78 461.41,521.87 462.16,521.97 462.90,522.07 463.65,522.16 464.39,522.26 465.14,522.36 465.89,522.45 466.63,522.55 467.38,522.65 468.12,522.74 468.87,522.84 469.62,522.94 470.36,523.03 471.11,523.13 471.85,523.23 472.60,523.32 473.35,523.42 474.09,523.52 474.84,523.61 475.58,523.71 476.33,523.81 477.08,523.90 477.82,524.00 478.57,524.10 479.31,524.19 480.06,524.29 480.81,524.39 481.55,524.48 482.30,524.58 483.04,524.68 483.79,524.77 484.54,524.87 485.28,524.97 486.03,525.06 486.77,525.16 487.52,525.26 488.27,525.35 489.01,525.45 489.76,525.55 490.50,525.64 491.25,525.74 492.00,525.84 492.74,525.93 493.49,526.03 494.23,526.13 494.98,526.22 495.73,526.32 496.47,526.42 497.22,526.51 497.96,526.61 498.71,526.71 499.46,526.80 500.20,526.90 500.95,527.00 501.69,527.09 502.44,527.19 503.19,527.29 503.93,527.38 504.68,527.48 505.42,527.58 506.17,527.67 506.92,527.77 507.66,527.87 508.41,527.96 509.15,528.06 509.90,528.16 510.65,528.25 511.39,528.35 512.14,528.45 512.88,528.54 513.63,528.64 514.38,528.74 515.12,528.83 515.87,528.93 516.61,529.03 517.36,529.12 518.11,529.22 518.85,529.32 519.60,529.41 520.34,529.51 521.09,529.61 521.84,529.70 522.58,529.80 523.33,529.90 524.07,529.99 524.82,530.09 525.57,530.19 526.31,530.28 527.06,530.38 527.80,530.48 528.55,530.57 529.30,530.67 530.04,530.77 530.79,530.86 531.53,530.96 532.28,531.06 533.03,531.15 533.77,531.25 534.52,531.35 535.26,531.44 536.01,531.54 536.76,531.64 537.50,531.73 538.25,531.83 538.99,531.93 539.74,532.02 540.49,532.12 541.23,532.22 541.98,532.31 542.72,532.41 543.47,532.51 544.22,532.60 544.96,532.70 545.71,532.80 546.45,532.89 547.20,532.99 547.95,533.09 548.69,533.18 549.44,533.28 550.18,533.38 550.93,533.47 551.68,533.57 552.42,533.67 553.17,533.76 553.91,533.86 554.66,533.96 555.41,534.05 556.15,534.15 556.90,534.25 557.64,534.34 558.39,534.44 559.14,534.54 559.88,534.63 560.63,534.73 561.37,534.83 562.12,534.92 562.87,535.02 563.61,535.12 564.36,535.21 565.10,535.31 565.85,535.41 566.60,535.50 567.34,535.60 568.09,535.70 568.83,535.79 569.58,535.89 570.33,535.99 571.07,536.08 571.82,536.18 572.56,536.28 573.31,536.37 574.06,536.47 574.80,536.57 575.55,536.67 576.29,536.76 577.04,536.86 577.79,536.96 578.53,537.05 579.28,537.15 580.02,537.25 580.77,537.34 581.52,537.44 582.26,537.54 583.01,537.63 583.75,537.73 584.50,537.83 584.50,580.37 583.75,580.25 583.01,580.13 582.26,580.01 581.52,579.89 580.77,579.77 580.02,579.65 579.28,579.53 578.53,579.41 577.79,579.29 577.04,579.17 576.29,579.05 575.55,578.93 574.80,578.81 574.06,578.69 573.31,578.57 572.56,578.45 571.82,578.33 571.07,578.21 570.33,578.09 569.58,577.97 568.83,577.85 568.09,577.73 567.34,577.61 566.60,577.49 565.85,577.38 565.10,577.26 564.36,577.14 563.61,577.02 562.87,576.90 562.12,576.78 561.37,576.66 560.63,576.54 559.88,576.42 559.14,576.30 558.39,576.18 557.64,576.06 556.90,575.94 556.15,575.82 555.41,575.70 554.66,575.58 553.91,575.46 553.17,575.34 552.42,575.22 551.68,575.10 550.93,574.98 550.18,574.86 549.44,574.74 548.69,574.62 547.95,574.50 547.20,574.38 546.45,574.26 545.71,574.14 544.96,574.02 544.22,573.90 543.47,573.78 542.72,573.66 541.98,573.54 541.23,573.42 540.49,573.30 539.74,573.18 538.99,573.06 538.25,572.94 537.50,572.82 536.76,572.70 536.01,572.58 535.26,572.46 534.52,572.34 533.77,572.22 533.03,572.10 532.28,571.98 531.53,571.86 530.79,571.74 530.04,571.62 529.30,571.50 528.55,571.38 527.80,571.26 527.06,571.14 526.31,571.02 525.57,570.90 524.82,570.78 524.07,570.66 523.33,570.54 522.58,570.42 521.84,570.30 521.09,570.18 520.34,570.06 519.60,569.94 518.85,569.82 518.11,569.70 517.36,569.58 516.61,569.46 515.87,569.34 515.12,569.22 514.38,569.10 513.63,568.98 512.88,568.86 512.14,568.74 511.39,568.62 510.65,568.50 509.90,568.38 509.15,568.26 508.41,568.14 507.66,568.02 506.92,567.90 506.17,567.78 505.42,567.66 504.68,567.54 503.93,567.42 503.19,567.30 502.44,567.18 501.69,567.06 500.95,566.94 500.20,566.82 499.46,566.70 498.71,566.58 497.96,566.46 497.22,566.34 496.47,566.22 495.73,566.10 494.98,565.98 494.23,565.86 493.49,565.74 492.74,565.62 492.00,565.50 491.25,565.38 490.50,565.26 489.76,565.14 489.01,565.02 488.27,564.90 487.52,564.78 486.77,564.66 486.03,564.54 485.28,564.42 484.54,564.30 483.79,564.18 483.04,564.06 482.30,563.94 481.55,563.82 480.81,563.70 480.06,563.58 479.31,563.46 478.57,563.34 477.82,563.22 477.08,563.10 476.33,562.98 475.58,562.86 474.84,562.74 474.09,562.62 473.35,562.50 472.60,562.38 471.85,562.26 471.11,562.14 470.36,562.02 469.62,561.90 468.87,561.78 468.12,561.66 467.38,561.54 466.63,561.42 465.89,561.30 465.14,561.18 464.39,561.06 463.65,560.94 462.90,560.82 462.16,560.70 461.41,560.58 460.66,560.46 459.92,560.34 459.17,560.22 458.43,560.10 457.68,559.98 456.93,559.86 456.19,559.74 455.44,559.62 454.70,559.50 453.95,559.38 453.20,559.26 452.46,559.14 451.71,559.02 450.97,558.90 450.22,558.78 449.47,558.66 448.73,558.54 447.98,558.42 447.24,558.30 446.49,558.18 445.74,558.06 445.00,557.94 444.25,557.82 443.51,557.70 442.76,557.58 442.01,557.46 441.27,557.34 440.52,557.22 439.78,557.10 439.03,556.98 438.28,556.86 437.54,556.74 436.79,556.62 436.05,556.50 435.30,556.38 435.30,556.38 434.55,556.63 433.80,556.88 433.05,557.12 432.31,557.37 431.56,557.61 430.81,557.86 430.06,558.10 429.31,558.35 428.56,558.60 427.81,558.84 427.07,559.09 426.32,559.33 425.57,559.58 424.82,559.82 424.07,560.07 423.32,560.32 422.58,560.56 421.83,560.81 421.08,561.05 420.33,561.30 419.58,561.55 418.83,561.79 418.08,562.04 417.34,562.28 416.59,562.53 415.84,562.77 415.09,563.02 414.34,563.27 413.59,563.51 412.85,563.76 412.10,564.00 411.35,564.25 410.60,564.49 409.85,564.74 409.10,564.99 408.35,565.23 407.61,565.48 406.86,565.72 406.11,565.97 405.36,566.21 404.61,566.46 403.86,566.71 403.11,566.95 402.37,567.20 401.62,567.44 400.87,567.69 400.12,567.93 399.37,568.18 398.62,568.43 397.88,568.67 397.13,568.92 396.38,569.16 395.63,569.41 394.88,569.65 394.13,569.90 393.38,570.15 392.64,570.39 391.89,570.64 391.14,570.88 390.39,571.13 389.64,571.37 388.89,571.62 388.14,571.87 387.40,572.11 386.65,572.36 385.90,572.60 385.15,572.85 384.40,573.09 383.65,573.34 382.91,573.59 382.16,573.83 381.41,574.08 380.66,574.32 379.91,574.57 379.16,574.81 378.41,575.06 377.67,575.31 376.92,575.55 376.17,575.80 375.42,576.04 374.67,576.29 373.92,576.53 373.17,576.78 372.43,577.03 371.68,577.27 370.93,577.52 370.18,577.76 369.43,578.01 368.68,578.25 367.94,578.50 367.19,578.75 366.44,578.99 365.69,579.24 364.94,579.48 364.19,579.73 363.44,579.98 362.70,580.22 361.95,580.47 361.20,580.71 360.45,580.96 359.70,581.20 358.95,581.45 358.20,581.70 357.46,581.94 356.71,582.19 355.96,582.43 355.21,582.68 354.46,582.92 353.71,583.17 352.97,583.42 352.22,583.66 351.47,583.91 350.72,584.15 349.97,584.40 349.22,584.64 348.47,584.89 347.73,585.14 346.98,585.38 346.23,585.63 345.48,585.87 344.73,586.12 343.98,586.36 343.23,586.61 342.49,586.86 341.74,587.10 340.99,587.35 340.24,587.59 339.49,587.84 338.74,588.08 338.00,588.33 337.25,588.58 336.50,588.82 335.75,589.07 335.00,589.31 334.25,589.56 333.50,589.80 332.76,590.05 332.01,590.30 331.26,590.54 330.51,590.79 329.76,591.03 329.01,591.28 328.26,591.52 327.52,591.77 326.77,592.02 326.02,592.26 325.27,592.51 324.52,592.75 323.77,593.00 323.03,593.24 322.28,593.49 321.53,593.74 320.78,593.98 320.03,594.23 319.28,594.47 318.53,594.72 317.79,594.96 317.04,595.21 316.29,595.46 315.54,595.70 314.79,595.95 314.04,596.19 313.29,596.44 312.55,596.68 311.80,596.93 311.05,597.18 310.30,597.42 309.55,597.67 308.80,597.91 308.06,598.16 307.31,598.41 306.56,598.65 305.81,598.90 305.06,599.14 304.31,599.39 303.56,599.63 302.82,599.88 302.07,600.13 301.32,600.37 300.57,600.62 299.82,600.86 299.07,601.11 298.32,601.35 297.58,601.60 296.83,601.85 296.08,602.09 295.33,602.34 294.58,602.58 293.83,602.83 293.09,603.07 292.34,603.32 291.59,603.57 290.84,603.81 290.09,604.06 289.34,604.30 288.59,604.55 287.85,604.79 287.10,605.04 286.35,605.29 285.60,605.53 285.60,605.53 284.85,605.88 284.10,606.23 283.36,606.58 282.61,606.93 281.86,607.27 281.11,607.62 280.36,607.97 279.62,608.32 278.87,608.67 278.12,609.02 277.37,609.36 276.62,609.71 275.88,610.06 275.13,610.41 274.38,610.76 273.63,611.11 272.88,611.46 272.14,611.80 271.39,612.15 270.64,612.50 269.89,612.85 269.14,613.20 268.40,613.55 267.65,613.90 266.90,614.24 266.15,614.59 265.40,614.94 264.66,615.29 263.91,615.64 263.16,615.99 262.41,616.33 261.66,616.68 260.92,617.03 260.17,617.38 259.42,617.73 258.67,618.08 257.92,618.43 257.18,618.77 256.43,619.12 255.68,619.47 254.93,619.82 254.18,620.17 253.44,620.52 252.69,620.86 251.94,621.21 251.19,621.56 250.44,621.91 249.70,622.26 248.95,622.61 248.20,622.96 247.45,623.30 246.70,623.65 245.96,624.00 245.21,624.35 244.46,624.70 243.71,625.05 242.96,625.40 242.22,625.74 241.47,626.09 240.72,626.44 239.97,626.79 239.22,627.14 238.48,627.73 237.73,628.45 236.98,629.18 236.23,629.91 235.48,630.64 234.74,631.36 233.99,632.09 233.24,632.82 232.49,633.54 231.74,634.27 231.00,635.00 230.25,635.72 229.50,636.45 228.75,637.18 228.00,637.90 227.26,638.63 226.51,639.36 225.76,640.08 225.01,640.81 224.26,641.54 223.52,642.26 222.77,642.99 222.02,643.72 221.27,644.45 220.52,645.17 219.78,645.90 219.03,646.63 218.28,647.35 217.53,648.08 216.78,648.81 216.04,649.53 215.29,650.26 214.54,650.99 213.79,651.71 213.04,652.44 212.30,653.17 211.55,653.89 210.80,654.62 210.05,655.35 209.30,656.08 208.56,656.80 207.81,657.53 207.06,658.26 206.31,658.98 205.56,659.71 204.82,660.44 204.07,661.16 203.32,661.89 202.57,662.62 201.82,663.34 201.08,664.07 200.33,664.80 199.58,665.52 198.83,666.25 198.08,666.98 197.34,667.70 196.59,668.43 195.84,669.16 195.09,669.89 194.34,670.61 193.60,671.34 192.85,672.07 192.10,672.79 191.35,673.52 190.60,674.25 189.86,674.97 189.11,675.70 188.36,676.43 187.61,677.15 186.86,677.88 186.12,678.61 185.37,679.33 184.62,680.06 183.87,680.79 183.12,681.51 182.38,682.24 181.63,682.97 180.88,683.70 180.13,684.42 179.38,685.15 178.64,685.88 177.89,686.60 177.14,687.33 176.39,688.06 175.64,688.78 174.90,689.51 174.15,690.24 173.40,690.96 172.65,691.69 171.90,692.42 171.16,693.14 170.41,693.87 169.66,694.60 168.91,695.32 168.16,696.05 167.42,696.78 166.67,697.51 165.92,698.23 165.17,698.96 164.42,699.69 163.68,700.41 162.93,701.14 162.18,701.87 161.43,702.59 160.68,703.32 159.94,704.05 159.19,704.77 158.44,705.50 157.69,706.23 156.94,706.95 156.20,707.68 155.45,708.41 154.70,709.14 153.95,709.86 153.20,710.59 152.46,711.32 151.71,712.04 150.96,712.77 150.21,713.50 149.46,714.22 148.72,714.95 147.97,715.68 147.22,716.40 146.47,717.13 145.72,717.86 144.98,718.58 144.23,719.31 143.48,720.04 142.73,720.76 141.98,721.49 141.24,722.22 140.49,722.95 139.74,723.67 138.99,724.40 138.24,725.13 137.50,725.85 136.75,726.58 136.00,727.31" fill="#EC8424" stroke="none"/>
<polygon points="285.60,600.25 289.34,598.90 293.09,597.55 296.83,596.20 300.57,594.85 304.31,593.49 308.06,592.14 311.80,590.79 315.54,589.44 319.28,588.09 323.03,586.73 326.77,585.38 330.51,584.03 334.25,582.68 338.00,581.33 341.74,579.97 345.48,578.62 349.22,577.27 352.97,575.92 356.71,574.57 360.45,573.21 364.19,571.86 367.94,570.51 371.68,569.16 375.42,567.81 379.16,566.45 382.91,565.10 386.65,563.75 390.39,562.40 394.13,561.05 397.88,559.69 401.62,558.34 405.36,556.99 409.10,555.64 412.85,554.29 416.59,552.94 420.33,551.58 424.07,550.23 427.81,548.88 431.56,547.53 435.30,546.18 435.30,546.18 439.03,546.81 442.76,547.44 446.49,548.07 450.22,548.70 453.95,549.34 457.68,549.97 461.41,550.60 465.14,551.23 468.87,551.87 472.60,552.50 476.33,553.13 480.06,553.76 483.79,554.40 487.52,555.03 491.25,555.66 494.98,556.29 498.71,556.67 502.44,557.03 506.17,557.38 509.90,557.73 513.63,558.08 517.36,558.44 521.09,558.79 524.82,559.14 528.55,559.49 532.28,559.85 536.01,560.20 539.74,560.55 543.47,560.90 547.20,561.26 550.93,561.61 554.66,561.96 558.39,562.32 562.12,562.67 565.85,563.02 569.58,563.37 573.31,563.73 577.04,564.08 580.77,564.43 584.50,564.78 584.50,571.47 580.77,570.84 577.04,570.20 573.31,569.57 569.58,568.94 565.85,568.31 562.12,567.68 558.39,567.04 554.66,566.41 550.93,565.78 547.20,565.15 543.47,564.51 539.74,563.88 536.01,563.25 532.28,562.62 528.55,561.98 524.82,561.35 521.09,560.72 517.36,560.09 513.63,559.45 509.90,558.82 506.17,558.19 502.44,557.56 498.71,556.93 494.98,556.32 491.25,555.97 487.52,555.62 483.79,555.26 480.06,554.91 476.33,554.56 472.60,554.21 468.87,553.85 465.14,553.50 461.41,553.15 457.68,552.80 453.95,552.44 450.22,552.09 446.49,551.74 442.76,551.39 439.03,551.03 435.30,550.68 435.30,550.68 431.56,552.14 427.81,553.59 424.07,555.04 420.33,556.50 416.59,557.95 412.85,559.40 409.10,560.86 405.36,562.31 401.62,563.77 397.88,565.22 394.13,566.67 390.39,568.13 386.65,569.58 382.91,571.03 379.16,572.49 375.42,573.94 371.68,575.39 367.94,576.85 364.19,578.30 360.45,579.76 356.71,581.21 352.97,582.66 349.22,584.12 345.48,585.57 341.74,587.02 338.00,588.48 334.25,589.93 330.51,591.39 326.77,592.84 323.03,594.29 319.28,595.75 315.54,597.20 311.80,598.65 308.06,600.11 304.31,601.56 300.57,603.02 296.83,604.47 293.09,605.92 289.34,607.38 285.60,608.83" fill="#E2953C" stroke="none"/>
<line x1="62.10" y1="311.00" x2="62.10" y2="752.00" stroke="#000" stroke-width="3.1" />
<line x1="54.50" y1="748.20" x2="659.50" y2="748.20" stroke="#000" stroke-width="2.8" />
<line x1="54.20" y1="748.38" x2="62.20" y2="748.38" stroke="#000" stroke-width="2.6" />
<text x="48.20" y="754.18" font-size="16.8" text-anchor="end" fill="#000" >-500</text>
<line x1="54.20" y1="675.70" x2="62.20" y2="675.70" stroke="#000" stroke-width="2.6" />
<text x="48.20" y="681.50" font-size="16.8" text-anchor="end" fill="#000" >0</text>
<line x1="54.20" y1="603.02" x2="62.20" y2="603.02" stroke="#000" stroke-width="2.6" />
<text x="48.20" y="608.82" font-size="16.8" text-anchor="end" fill="#000" >500</text>
<line x1="54.20" y1="530.33" x2="62.20" y2="530.33" stroke="#000" stroke-width="2.6" />
<text x="48.20" y="536.13" font-size="16.8" text-anchor="end" fill="#000" >1000</text>
<line x1="54.20" y1="457.65" x2="62.20" y2="457.65" stroke="#000" stroke-width="2.6" />
<text x="48.20" y="463.45" font-size="16.8" text-anchor="end" fill="#000" >1500</text>
<line x1="54.20" y1="384.96" x2="62.20" y2="384.96" stroke="#000" stroke-width="2.6" />
<text x="48.20" y="390.76" font-size="16.8" text-anchor="end" fill="#000" >2000</text>
<line x1="54.20" y1="312.28" x2="62.20" y2="312.28" stroke="#000" stroke-width="2.6" />
<text x="48.20" y="318.08" font-size="16.8" text-anchor="end" fill="#000" >2500</text>
<line x1="57.80" y1="712.04" x2="62.20" y2="712.04" stroke="#000" stroke-width="2.0" />
<line x1="57.80" y1="639.36" x2="62.20" y2="639.36" stroke="#000" stroke-width="2.0" />
<line x1="57.80" y1="566.67" x2="62.20" y2="566.67" stroke="#000" stroke-width="2.0" />
<line x1="57.80" y1="493.99" x2="62.20" y2="493.99" stroke="#000" stroke-width="2.0" />
<line x1="57.80" y1="421.30" x2="62.20" y2="421.30" stroke="#000" stroke-width="2.0" />
<line x1="57.80" y1="348.62" x2="62.20" y2="348.62" stroke="#000" stroke-width="2.0" />
<line x1="136.00" y1="748.20" x2="136.00" y2="755.70" stroke="#000" stroke-width="2.6" />
<line x1="285.60" y1="748.20" x2="285.60" y2="755.70" stroke="#000" stroke-width="2.6" />
<line x1="435.30" y1="748.20" x2="435.30" y2="755.70" stroke="#000" stroke-width="2.6" />
<line x1="584.50" y1="748.20" x2="584.50" y2="755.70" stroke="#000" stroke-width="2.6" />
<line x1="211.00" y1="748.20" x2="211.00" y2="752.20" stroke="#000" stroke-width="2.0" />
<line x1="360.60" y1="748.20" x2="360.60" y2="752.20" stroke="#000" stroke-width="2.0" />
<line x1="510.00" y1="748.20" x2="510.00" y2="752.20" stroke="#000" stroke-width="2.0" />
<line x1="659.00" y1="748.20" x2="659.00" y2="752.20" stroke="#000" stroke-width="2.0" />
<text x="136.00" y="774.80" font-size="17.1" text-anchor="middle" fill="#000" >2020-2030</text>
<text x="285.60" y="774.80" font-size="17.1" text-anchor="middle" fill="#000" >2030-2040</text>
<text x="435.30" y="774.80" font-size="17.1" text-anchor="middle" fill="#000" >2040-2050</text>
<text x="584.50" y="774.80" font-size="17.1" text-anchor="middle" fill="#000" >2050-2060</text>
<text x="14.00" y="512.70" font-size="17.7" text-anchor="middle" fill="#000" transform="rotate(-90 14.0 512.7)">Total cost (US billion-dollar)</text>
<text x="63.60" y="317.50" font-size="20.0" text-anchor="start" fill="#000" >C</text>
<polyline points="136.00,667.27 285.60,637.61 435.30,614.35 584.50,627.58" fill="none" stroke="#5F5F5F" stroke-width="1.55" stroke-dasharray="9 4.4 2 4.4" />
<polyline points="136.00,670.32 285.60,555.33 435.30,450.96 584.50,467.68" fill="none" stroke="#000000" stroke-width="1.55" stroke-dasharray="9 4.4 2 4.4" />
<polyline points="136.00,727.31 285.60,581.94 435.30,499.51 584.50,465.64" fill="none" stroke="#4F80E8" stroke-width="1.55" stroke-dasharray="9 4.4 2 4.4" />
<polyline points="136.00,678.61 285.60,505.62 435.30,383.51 584.50,454.74" fill="none" stroke="#5CBF70" stroke-width="1.55" stroke-dasharray="9 4.4 2 4.4" />
<polyline points="136.00,667.27 285.60,638.78 435.30,620.60 584.50,636.74" fill="none" stroke="#B07FEE" stroke-width="1.55" stroke-dasharray="9 4.4 2 4.4" />
<polyline points="136.00,632.96 285.60,586.88 435.30,555.62 584.50,576.27" fill="none" stroke="#23209A" stroke-width="1.55" stroke-dasharray="9 4.4 2 4.4" />
<polyline points="136.00,660.00 285.60,578.74 435.30,504.89 584.50,534.55" fill="none" stroke="#6FE6D8" stroke-width="1.55" stroke-dasharray="9 4.4 2 4.4" />
<polyline points="136.00,671.34 285.60,640.96 435.30,622.93 584.50,635.43" fill="none" stroke="#5F5F5F" stroke-width="1.5" />
<polyline points="136.00,671.34 285.60,589.20 435.30,512.59 584.50,541.09" fill="none" stroke="#000000" stroke-width="1.5" />
<polyline points="136.00,729.78 285.60,608.83 435.30,550.68 584.50,564.78" fill="none" stroke="#4F80E8" stroke-width="1.5" />
<polyline points="136.00,683.40 285.60,562.46 435.30,460.55 584.50,506.20" fill="none" stroke="#5CBF70" stroke-width="1.5" />
<polyline points="136.00,667.56 285.60,642.85 435.30,627.15 584.50,639.94" fill="none" stroke="#B07FEE" stroke-width="1.5" />
<polyline points="136.00,638.19 285.60,598.51 435.30,576.27 584.50,602.58" fill="none" stroke="#23209A" stroke-width="1.5" />
<polyline points="136.00,664.07 285.60,600.25 435.30,546.18 584.50,571.47" fill="none" stroke="#6FE6D8" stroke-width="1.5" />
<polyline points="136.00,675.23 285.60,605.53 435.30,556.38 584.50,580.37" fill="none" stroke="#8B0F08" stroke-width="5.0" stroke-linecap="round" stroke-linejoin="round"/>
<polyline points="136.00,671.96 285.60,583.28 435.30,518.49 584.50,537.83" fill="none" stroke="#0F0090" stroke-width="5.0" stroke-linecap="round" stroke-linejoin="round"/>
<line x1="84.40" y1="307.50" x2="112.00" y2="307.50" stroke="#5F5F5F" stroke-width="1.5" stroke-dasharray="9 4.4 2 4.4"/>
<line x1="84.40" y1="322.10" x2="112.00" y2="322.10" stroke="#5F5F5F" stroke-width="1.5" />
<text x="113.80" y="311.50" font-size="11.6" text-anchor="start" fill="#000" >REMIND</text>
<text x="113.80" y="326.00" font-size="11.6" text-anchor="start" fill="#000" >REMIND</text>
<line x1="158.90" y1="307.50" x2="186.50" y2="307.50" stroke="#000000" stroke-width="1.5" stroke-dasharray="9 4.4 2 4.4"/>
<line x1="158.90" y1="322.10" x2="186.50" y2="322.10" stroke="#000000" stroke-width="1.5" />
<text x="188.60" y="311.50" font-size="11.6" text-anchor="start" fill="#000" >CGE</text>
<text x="188.60" y="326.00" font-size="11.6" text-anchor="start" fill="#000" >CGE</text>
<line x1="212.00" y1="307.50" x2="239.60" y2="307.50" stroke="#4F80E8" stroke-width="1.5" stroke-dasharray="9 4.4 2 4.4"/>
<line x1="212.00" y1="322.10" x2="239.60" y2="322.10" stroke="#4F80E8" stroke-width="1.5" />
<text x="241.20" y="311.50" font-size="11.6" text-anchor="start" fill="#000" >WITCH</text>
<text x="241.20" y="326.00" font-size="11.6" text-anchor="start" fill="#000" >WITCH</text>
<line x1="278.30" y1="307.50" x2="305.90" y2="307.50" stroke="#5CBF70" stroke-width="1.5" stroke-dasharray="9 4.4 2 4.4"/>
<line x1="278.30" y1="322.10" x2="305.90" y2="322.10" stroke="#5CBF70" stroke-width="1.5" />
<text x="307.60" y="311.50" font-size="11.6" text-anchor="start" fill="#000" >IMAGE</text>
<text x="307.60" y="326.00" font-size="11.6" text-anchor="start" fill="#000" >IMAGE</text>
<line x1="345.00" y1="307.50" x2="372.60" y2="307.50" stroke="#B07FEE" stroke-width="1.5" stroke-dasharray="9 4.4 2 4.4"/>
<line x1="345.00" y1="322.10" x2="372.60" y2="322.10" stroke="#B07FEE" stroke-width="1.5" />
<text x="374.10" y="311.50" font-size="11.6" text-anchor="start" fill="#000" >GCAM</text>
<text x="374.10" y="326.00" font-size="11.6" text-anchor="start" fill="#000" >GCAM</text>
<line x1="409.20" y1="307.50" x2="436.80" y2="307.50" stroke="#23209A" stroke-width="1.5" stroke-dasharray="9 4.4 2 4.4"/>
<line x1="409.20" y1="322.10" x2="436.80" y2="322.10" stroke="#23209A" stroke-width="1.5" />
<text x="438.30" y="311.50" font-size="11.6" text-anchor="start" fill="#000" >MESSAGE-GLOBIOM</text>
<text x="438.30" y="326.00" font-size="11.6" text-anchor="start" fill="#000" >MESSAGE-GLOBIOM</text>
<line x1="553.20" y1="307.50" x2="580.80" y2="307.50" stroke="#6FE6D8" stroke-width="1.5" stroke-dasharray="9 4.4 2 4.4"/>
<line x1="553.20" y1="322.10" x2="580.80" y2="322.10" stroke="#6FE6D8" stroke-width="1.5" />
<text x="582.30" y="311.50" font-size="11.6" text-anchor="start" fill="#000" >POLES</text>
<text x="582.30" y="326.00" font-size="11.6" text-anchor="start" fill="#000" >POLES</text>
<line x1="86.80" y1="335.00" x2="113.40" y2="335.00" stroke="#8B0F08" stroke-width="4.6" stroke-linecap="round"/>
<line x1="86.80" y1="349.40" x2="113.40" y2="349.40" stroke="#0F0090" stroke-width="4.6" stroke-linecap="round"/>
<text x="119.20" y="338.60" font-size="11.6" text-anchor="start" fill="#000" >Average total cost (cost-optimal joint abatement pathway)</text>
<text x="119.20" y="352.60" font-size="11.6" text-anchor="start" fill="#000" >Average total cost (non-joint abatement pathway)</text>
<text x="111.50" y="657.80" font-size="19" text-anchor="start" fill="#000" >25.76</text>
<text x="121.20" y="700.50" font-size="19" text-anchor="start" fill="#000" >3.24</text>
<text x="260.60" y="569.50" font-size="19" text-anchor="start" fill="#000" >635.74</text>
<text x="269.60" y="631.40" font-size="19" text-anchor="start" fill="#000" >482.69</text>
<text x="410.20" y="504.70" font-size="19" text-anchor="start" fill="#000" >1081.46</text>
<text x="419.70" y="582.20" font-size="19" text-anchor="start" fill="#000" >820.77</text>
<text x="559.00" y="523.50" font-size="19" text-anchor="start" fill="#000" >948.44</text>
<text x="568.20" y="606.50" font-size="19" text-anchor="start" fill="#000" >655.75</text>
</svg></body></html>
